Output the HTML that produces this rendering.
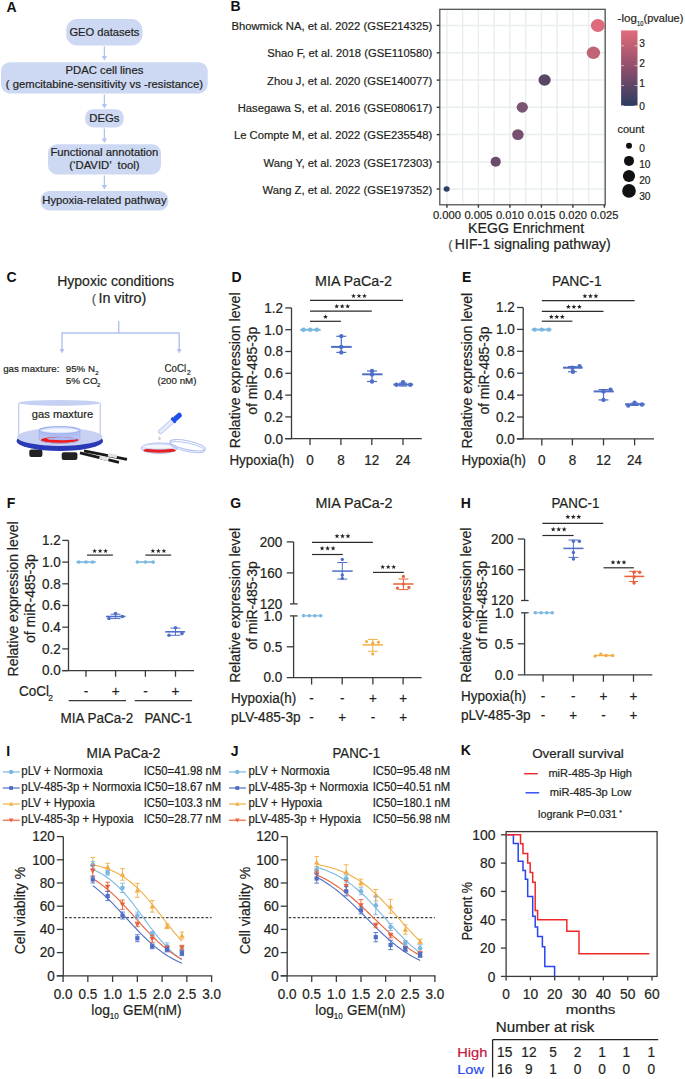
<!DOCTYPE html>
<html><head><meta charset="utf-8"><style>
html,body{margin:0;padding:0;background:#fff;overflow:hidden;}
svg{display:block;}
text{font-family:"Liberation Sans", sans-serif;}
</style></head><body>
<svg width="685" height="1079" viewBox="0 0 685 1079" font-family='"Liberation Sans", sans-serif' fill="#231f20">
<rect width="685" height="1079" fill="#ffffff"/>
<text x="6.50" y="12.00" font-size="14" font-weight="bold" fill="#111" >A</text>
<rect x="66.20" y="19.00" width="76.20" height="26.50" rx="11" fill="#cdd8f3" />
<rect x="1.00" y="62.20" width="206.70" height="31.20" rx="9" fill="#cdd8f3" />
<rect x="85.20" y="109.20" width="38.50" height="18.20" rx="8" fill="#cdd8f3" />
<rect x="48.00" y="144.20" width="113.00" height="30.20" rx="9" fill="#cdd8f3" />
<rect x="40.50" y="190.90" width="127.90" height="19.70" rx="9" fill="#cdd8f3" />
<line x1="104.40" y1="46.40" x2="104.40" y2="57.40" stroke="#b3c2ef" stroke-width="1.3" />
<path d="M101.70,56.00 L104.40,60.40 L107.10,56.00 Z" stroke="none" stroke-width="1" fill="#b3c2ef" />
<line x1="104.40" y1="94.60" x2="104.40" y2="105.50" stroke="#b3c2ef" stroke-width="1.3" />
<path d="M101.70,104.10 L104.40,108.50 L107.10,104.10 Z" stroke="none" stroke-width="1" fill="#b3c2ef" />
<line x1="104.40" y1="128.50" x2="104.40" y2="139.80" stroke="#b3c2ef" stroke-width="1.3" />
<path d="M101.70,138.40 L104.40,142.80 L107.10,138.40 Z" stroke="none" stroke-width="1" fill="#b3c2ef" />
<line x1="104.40" y1="175.50" x2="104.40" y2="186.50" stroke="#b3c2ef" stroke-width="1.3" />
<path d="M101.70,185.10 L104.40,189.50 L107.10,185.10 Z" stroke="none" stroke-width="1" fill="#b3c2ef" />
<text x="104.40" y="35.60" font-size="11.3" text-anchor="middle" stroke="#231f20" stroke-width="0.2" textLength="69.90" lengthAdjust="spacingAndGlyphs" >GEO datasets</text>
<text x="104.40" y="73.90" font-size="11.3" text-anchor="middle" stroke="#231f20" stroke-width="0.2" >PDAC cell lines</text>
<text x="104.40" y="87.60" font-size="11.3" text-anchor="middle" stroke="#231f20" stroke-width="0.2" >( gemcitabine-sensitivity vs -resistance)</text>
<text x="104.40" y="122.30" font-size="11.3" text-anchor="middle" stroke="#231f20" stroke-width="0.2" >DEGs</text>
<text x="104.40" y="155.80" font-size="11.3" text-anchor="middle" stroke="#231f20" stroke-width="0.2" >Functional annotation</text>
<text x="104.40" y="169.00" font-size="11.3" text-anchor="middle" stroke="#231f20" stroke-width="0.2" xml:space="preserve">(‘DAVID’  tool)</text>
<text x="104.40" y="204.00" font-size="11.3" text-anchor="middle" stroke="#231f20" stroke-width="0.2" >Hypoxia-related pathway</text>
<text x="230.50" y="10.70" font-size="14" font-weight="bold" fill="#111" >B</text>
<rect x="440.00" y="9.30" width="165.00" height="195.50" rx="0" fill="#ffffff" />
<line x1="446.90" y1="9.30" x2="446.90" y2="204.80" stroke="#e8eeec" stroke-width="1.4" />
<line x1="462.65" y1="9.30" x2="462.65" y2="204.80" stroke="#e8eeec" stroke-width="1.4" />
<line x1="478.40" y1="9.30" x2="478.40" y2="204.80" stroke="#e8eeec" stroke-width="1.4" />
<line x1="494.15" y1="9.30" x2="494.15" y2="204.80" stroke="#e8eeec" stroke-width="1.4" />
<line x1="509.90" y1="9.30" x2="509.90" y2="204.80" stroke="#e8eeec" stroke-width="1.4" />
<line x1="525.65" y1="9.30" x2="525.65" y2="204.80" stroke="#e8eeec" stroke-width="1.4" />
<line x1="541.40" y1="9.30" x2="541.40" y2="204.80" stroke="#e8eeec" stroke-width="1.4" />
<line x1="557.15" y1="9.30" x2="557.15" y2="204.80" stroke="#e8eeec" stroke-width="1.4" />
<line x1="572.90" y1="9.30" x2="572.90" y2="204.80" stroke="#e8eeec" stroke-width="1.4" />
<line x1="588.65" y1="9.30" x2="588.65" y2="204.80" stroke="#e8eeec" stroke-width="1.4" />
<line x1="604.40" y1="9.30" x2="604.40" y2="204.80" stroke="#e8eeec" stroke-width="1.4" />
<line x1="440.00" y1="25.40" x2="605.00" y2="25.40" stroke="#e8eeec" stroke-width="1.5" />
<line x1="440.00" y1="52.80" x2="605.00" y2="52.80" stroke="#e8eeec" stroke-width="1.5" />
<line x1="440.00" y1="80.10" x2="605.00" y2="80.10" stroke="#e8eeec" stroke-width="1.5" />
<line x1="440.00" y1="107.30" x2="605.00" y2="107.30" stroke="#e8eeec" stroke-width="1.5" />
<line x1="440.00" y1="134.60" x2="605.00" y2="134.60" stroke="#e8eeec" stroke-width="1.5" />
<line x1="440.00" y1="162.00" x2="605.00" y2="162.00" stroke="#e8eeec" stroke-width="1.5" />
<line x1="440.00" y1="189.00" x2="605.00" y2="189.00" stroke="#e8eeec" stroke-width="1.5" />
<rect x="439.8" y="9.3" width="165.4" height="195.5" fill="none" stroke="#4a4f50" stroke-width="1.25"/>
<text x="432.20" y="29.90" font-size="11.25" text-anchor="end" stroke="#231f20" stroke-width="0.2" >Bhowmick NA, et al. 2022 (GSE214325)</text>
<line x1="436.70" y1="25.40" x2="439.60" y2="25.40" stroke="#333" stroke-width="1.4" />
<text x="432.20" y="57.30" font-size="11.25" text-anchor="end" stroke="#231f20" stroke-width="0.2" >Shao F, et al. 2018 (GSE110580)</text>
<line x1="436.70" y1="52.80" x2="439.60" y2="52.80" stroke="#333" stroke-width="1.4" />
<text x="432.20" y="84.60" font-size="11.25" text-anchor="end" stroke="#231f20" stroke-width="0.2" >Zhou J, et al. 2020 (GSE140077)</text>
<line x1="436.70" y1="80.10" x2="439.60" y2="80.10" stroke="#333" stroke-width="1.4" />
<text x="432.20" y="111.80" font-size="11.25" text-anchor="end" stroke="#231f20" stroke-width="0.2" >Hasegawa S, et al. 2016 (GSE080617)</text>
<line x1="436.70" y1="107.30" x2="439.60" y2="107.30" stroke="#333" stroke-width="1.4" />
<text x="432.20" y="139.10" font-size="11.25" text-anchor="end" stroke="#231f20" stroke-width="0.2" >Le Compte M, et al. 2022 (GSE235548)</text>
<line x1="436.70" y1="134.60" x2="439.60" y2="134.60" stroke="#333" stroke-width="1.4" />
<text x="432.20" y="166.50" font-size="11.25" text-anchor="end" stroke="#231f20" stroke-width="0.2" >Wang Y, et al. 2023 (GSE172303)</text>
<line x1="436.70" y1="162.00" x2="439.60" y2="162.00" stroke="#333" stroke-width="1.4" />
<text x="432.20" y="193.50" font-size="11.25" text-anchor="end" stroke="#231f20" stroke-width="0.2" >Wang Z, et al. 2022 (GSE197352)</text>
<line x1="436.70" y1="189.00" x2="439.60" y2="189.00" stroke="#333" stroke-width="1.4" />
<line x1="446.90" y1="204.80" x2="446.90" y2="207.70" stroke="#333" stroke-width="1.4" />
<text x="446.90" y="218.80" font-size="11.2" text-anchor="middle" stroke="#231f20" stroke-width="0.2" >0.000</text>
<line x1="478.40" y1="204.80" x2="478.40" y2="207.70" stroke="#333" stroke-width="1.4" />
<text x="478.40" y="218.80" font-size="11.2" text-anchor="middle" stroke="#231f20" stroke-width="0.2" >0.005</text>
<line x1="509.90" y1="204.80" x2="509.90" y2="207.70" stroke="#333" stroke-width="1.4" />
<text x="509.90" y="218.80" font-size="11.2" text-anchor="middle" stroke="#231f20" stroke-width="0.2" >0.010</text>
<line x1="541.40" y1="204.80" x2="541.40" y2="207.70" stroke="#333" stroke-width="1.4" />
<text x="541.40" y="218.80" font-size="11.2" text-anchor="middle" stroke="#231f20" stroke-width="0.2" >0.015</text>
<line x1="572.90" y1="204.80" x2="572.90" y2="207.70" stroke="#333" stroke-width="1.4" />
<text x="572.90" y="218.80" font-size="11.2" text-anchor="middle" stroke="#231f20" stroke-width="0.2" >0.020</text>
<line x1="604.40" y1="204.80" x2="604.40" y2="207.70" stroke="#333" stroke-width="1.4" />
<text x="604.40" y="218.80" font-size="11.2" text-anchor="middle" stroke="#231f20" stroke-width="0.2" >0.025</text>
<text x="468.10" y="232.80" font-size="14" stroke="#231f20" stroke-width="0.2" textLength="116.00" lengthAdjust="spacingAndGlyphs" >KEGG Enrichment</text>
<text x="448.20" y="249.40" font-size="13" fill="#555" stroke="#555" stroke-width="0.2" >(</text>
<text x="454.80" y="249.40" font-size="14" stroke="#231f20" stroke-width="0.2" textLength="156.00" lengthAdjust="spacingAndGlyphs" >HIF-1 signaling pathway)</text>
<ellipse cx="597.85" cy="25.5" rx="7.0" ry="6.4" fill="#de6b7b"/>
<ellipse cx="593.4" cy="52.8" rx="6.7" ry="6.25" fill="#bf6474"/>
<ellipse cx="544.6" cy="80.0" rx="6.1" ry="5.75" fill="#574666"/>
<ellipse cx="522.3" cy="107.3" rx="5.6" ry="5.35" fill="#7b5373"/>
<ellipse cx="517.9" cy="134.6" rx="5.75" ry="5.45" fill="#775070"/>
<ellipse cx="495.7" cy="161.8" rx="5.1" ry="4.95" fill="#6b4d6b"/>
<ellipse cx="446.6" cy="189.0" rx="3.0" ry="2.8" fill="#2e3f63"/>
<defs><linearGradient id="cb" x1="0" y1="0" x2="0" y2="1"><stop offset="0" stop-color="#e16c7a"/><stop offset="0.5" stop-color="#8e4d6c"/><stop offset="1" stop-color="#2a3d62"/></linearGradient></defs>
<rect x="621.10" y="30.40" width="16.40" height="75.50" rx="0" fill="url(#cb)" />
<line x1="621.10" y1="45.80" x2="624.20" y2="45.80" stroke="#ffffff" stroke-width="0.8" opacity="0.7"/>
<line x1="634.40" y1="45.80" x2="637.50" y2="45.80" stroke="#ffffff" stroke-width="0.8" opacity="0.7"/>
<line x1="621.10" y1="65.70" x2="624.20" y2="65.70" stroke="#ffffff" stroke-width="0.8" opacity="0.7"/>
<line x1="634.40" y1="65.70" x2="637.50" y2="65.70" stroke="#ffffff" stroke-width="0.8" opacity="0.7"/>
<line x1="621.10" y1="85.60" x2="624.20" y2="85.60" stroke="#ffffff" stroke-width="0.8" opacity="0.7"/>
<line x1="634.40" y1="85.60" x2="637.50" y2="85.60" stroke="#ffffff" stroke-width="0.8" opacity="0.7"/>
<line x1="621.10" y1="105.60" x2="624.20" y2="105.60" stroke="#ffffff" stroke-width="0.8" opacity="0.7"/>
<line x1="634.40" y1="105.60" x2="637.50" y2="105.60" stroke="#ffffff" stroke-width="0.8" opacity="0.7"/>
<text x="639.20" y="47.00" font-size="10.2" stroke="#231f20" stroke-width="0.2" >3</text>
<text x="639.20" y="66.90" font-size="10.2" stroke="#231f20" stroke-width="0.2" >2</text>
<text x="639.20" y="86.80" font-size="10.2" stroke="#231f20" stroke-width="0.2" >1</text>
<text x="639.20" y="109.60" font-size="10.2" stroke="#231f20" stroke-width="0.2" >0</text>
<text x="617.60" y="22.00" font-size="11.2" stroke="#231f20" stroke-width="0.2" textLength="19.30" lengthAdjust="spacingAndGlyphs" >-log</text>
<text x="637.10" y="25.60" font-size="6.4" stroke="#231f20" stroke-width="0.2" textLength="6.30" lengthAdjust="spacingAndGlyphs" >10</text>
<text x="643.60" y="22.00" font-size="11.2" stroke="#231f20" stroke-width="0.2" textLength="39.70" lengthAdjust="spacingAndGlyphs" >(pvalue)</text>
<text x="617.50" y="132.50" font-size="11" stroke="#231f20" stroke-width="0.2" >count</text>
<circle cx="629.00" cy="145.80" r="3.00" fill="#111" />
<text x="639.20" y="151.50" font-size="10.2" stroke="#231f20" stroke-width="0.2" >0</text>
<circle cx="629.00" cy="160.90" r="5.00" fill="#111" />
<text x="639.20" y="167.50" font-size="10.2" stroke="#231f20" stroke-width="0.2" >10</text>
<circle cx="629.00" cy="176.00" r="6.10" fill="#111" />
<text x="639.20" y="184.00" font-size="10.2" stroke="#231f20" stroke-width="0.2" >20</text>
<circle cx="629.00" cy="190.90" r="6.80" fill="#111" />
<text x="639.20" y="199.50" font-size="10.2" stroke="#231f20" stroke-width="0.2" >30</text>
<text x="6.50" y="282.30" font-size="14" font-weight="bold" fill="#111" >C</text>
<text x="115.60" y="285.50" font-size="14" text-anchor="middle" stroke="#231f20" stroke-width="0.2" textLength="116.80" lengthAdjust="spacingAndGlyphs" >Hypoxic conditions</text>
<text x="91.80" y="302.80" font-size="13" fill="#555" stroke="#555" stroke-width="0.2" >(</text>
<text x="98.40" y="302.80" font-size="14" stroke="#231f20" stroke-width="0.2" textLength="47.90" lengthAdjust="spacingAndGlyphs" >In vitro)</text>
<line x1="118.70" y1="321.10" x2="118.70" y2="333.00" stroke="#b0c0f0" stroke-width="1.4" />
<line x1="61.30" y1="333.00" x2="179.60" y2="333.00" stroke="#b0c0f0" stroke-width="1.4" />
<line x1="62.00" y1="333.00" x2="62.00" y2="350.00" stroke="#b0c0f0" stroke-width="1.4" />
<path d="M59.60,349.00 L62.00,353.50 L64.40,349.00 Z" stroke="none" stroke-width="1" fill="#b0c0f0" />
<line x1="179.20" y1="333.00" x2="179.20" y2="350.00" stroke="#b0c0f0" stroke-width="1.4" />
<path d="M176.80,349.00 L179.20,353.50 L181.60,349.00 Z" stroke="none" stroke-width="1" fill="#b0c0f0" />
<text x="3.20" y="372.20" font-size="9.7" stroke="#231f20" stroke-width="0.2" textLength="56.20" lengthAdjust="spacingAndGlyphs" >gas maxture:</text>
<text x="65.80" y="372.20" font-size="9.7" stroke="#231f20" stroke-width="0.2" >95% N</text>
<text x="95.20" y="375.00" font-size="6" stroke="#231f20" stroke-width="0.2" >2</text>
<text x="65.80" y="383.90" font-size="9.9" stroke="#231f20" stroke-width="0.2" >5% CO</text>
<text x="97.00" y="386.80" font-size="6" stroke="#231f20" stroke-width="0.2" >2</text>
<text x="164.60" y="372.20" font-size="10.0" stroke="#231f20" stroke-width="0.2" textLength="21.60" lengthAdjust="spacingAndGlyphs" >CoCl</text>
<text x="186.90" y="375.20" font-size="6.6" stroke="#231f20" stroke-width="0.2" >2</text>
<text x="157.40" y="383.90" font-size="9.9" stroke="#231f20" stroke-width="0.2" textLength="39.10" lengthAdjust="spacingAndGlyphs" >(200 nM)</text>
<g>
<line x1="18.80" y1="403.00" x2="18.80" y2="437.00" stroke="#a9b7ec" stroke-width="0.9" />
<line x1="100.20" y1="403.00" x2="100.20" y2="437.00" stroke="#a9b7ec" stroke-width="0.9" />
<ellipse cx="59.5" cy="402.9" rx="40.7" ry="2.9" fill="#c6d0f2"/>
<text x="62.50" y="417.80" font-size="11" text-anchor="middle" stroke="#231f20" stroke-width="0.2" textLength="61.30" lengthAdjust="spacingAndGlyphs" >gas maxture</text>
<rect x="29.30" y="449.50" width="13.10" height="7.60" rx="2" fill="#222" />
<rect x="61.70" y="452.20" width="15.70" height="7.80" rx="2" fill="#222" />
<path d="M80,452.8 L119,462.3" stroke="#1a1a1a" stroke-width="2.9" fill="none" />
<path d="M84,450.8 L127,459.3" stroke="#1a1a1a" stroke-width="2.9" fill="none" />
<path d="M99.5,457.2 L108.5,459.4" stroke="#e2e2e2" stroke-width="3.6" fill="none" />
<path d="M108,454.8 L117,456.6" stroke="#e2e2e2" stroke-width="3.6" fill="none" />
<ellipse cx="59.8" cy="440.9" rx="43.3" ry="10.0" fill="#2a3ab6"/>
<ellipse cx="59.8" cy="437.0" rx="42.8" ry="8.9" fill="#c8d1f1"/>
<path d="M39.3,430.4 L39.3,439.6 A20.3,3.7 0 0 0 79.9,439.6 L79.9,430.4 Z" fill="#b8c6f3"/>
<ellipse cx="59.6" cy="440.1" rx="18.8" ry="3.4" fill="#ef1b1f"/>
<ellipse cx="62.2" cy="438.7" rx="15.2" ry="1.6" fill="#a9baf2"/>
<path d="M39.3,430.4 L39.3,439.6 A20.3,3.7 0 0 0 79.9,439.6 L79.9,430.4" fill="none" stroke="#9fb2ef" stroke-width="0.9"/>
<ellipse cx="59.6" cy="432.6" rx="20.0" ry="3.3" fill="none" stroke="#a9baf1" stroke-width="1.2"/>
<ellipse cx="59.6" cy="430.3" rx="20.3" ry="3.6" fill="#dfe6fb" stroke="#9fb2ef" stroke-width="1.3"/>
<ellipse cx="59.6" cy="430.6" rx="16.5" ry="1.5" fill="#f5f7fe"/>
</g>
<ellipse cx="159.2" cy="448.2" rx="18.1" ry="5.3" fill="#dde3f8" stroke="#b4c1f0" stroke-width="1"/>
<ellipse cx="159.6" cy="450.4" rx="16.2" ry="2.4" fill="#e81f22"/>
<ellipse cx="159.2" cy="446.6" rx="16.8" ry="2.6" fill="#f4f6fd" stroke="#c2cdf4" stroke-width="0.8"/>
<g transform="rotate(12 187.6 445.3)"><ellipse cx="187.6" cy="445.3" rx="18.2" ry="4.4" fill="none" stroke="#b3c0f0" stroke-width="1.1"/><ellipse cx="187.6" cy="447.2" rx="18.2" ry="4.2" fill="none" stroke="#b3c0f0" stroke-width="0.9"/></g>
<g transform="translate(158.9,433) rotate(-41)"><rect x="0" y="-2.1" width="19" height="4.2" rx="2" fill="#e6ebf9" stroke="#aebcec" stroke-width="0.8"/><rect x="18" y="-3.3" width="3" height="6.6" rx="1" fill="#1f4fe6"/><rect x="20" y="-2.6" width="9.5" height="5.2" rx="2.6" fill="#1f4fe6"/></g>
<path d="M159.5,435.6 C159.2,437 157.9,438.2 158.2,439.3 C158.5,440.4 160.5,440.4 160.8,439.3 C161.1,438.2 159.8,437 159.5,435.6Z" fill="#c9d4d0"/>
<text transform="translate(231.50,282.00) scale(1,1.07)" x="0" y="0" font-size="14" font-weight="bold" fill="#111" >D</text>
<text transform="translate(353.50,285.90) scale(1,1.07)" x="0" y="0" font-size="14" text-anchor="middle" stroke="#231f20" stroke-width="0.2" textLength="77.00" lengthAdjust="spacingAndGlyphs" >MIA PaCa-2</text>
<line x1="291.50" y1="307.90" x2="291.50" y2="438.70" stroke="#3a3a3a" stroke-width="1.3" />
<line x1="285.10" y1="438.70" x2="421.80" y2="438.70" stroke="#3a3a3a" stroke-width="1.3" />
<line x1="285.30" y1="307.90" x2="291.50" y2="307.90" stroke="#3a3a3a" stroke-width="1.3" />
<text transform="translate(283.00,312.70) scale(1,1.07)" x="0" y="0" font-size="13.5" text-anchor="end" stroke="#231f20" stroke-width="0.2" >1.2</text>
<line x1="285.30" y1="329.70" x2="291.50" y2="329.70" stroke="#3a3a3a" stroke-width="1.3" />
<text transform="translate(283.00,334.50) scale(1,1.07)" x="0" y="0" font-size="13.5" text-anchor="end" stroke="#231f20" stroke-width="0.2" >1.0</text>
<line x1="285.30" y1="351.50" x2="291.50" y2="351.50" stroke="#3a3a3a" stroke-width="1.3" />
<text transform="translate(283.00,356.30) scale(1,1.07)" x="0" y="0" font-size="13.5" text-anchor="end" stroke="#231f20" stroke-width="0.2" >0.8</text>
<line x1="285.30" y1="373.30" x2="291.50" y2="373.30" stroke="#3a3a3a" stroke-width="1.3" />
<text transform="translate(283.00,378.10) scale(1,1.07)" x="0" y="0" font-size="13.5" text-anchor="end" stroke="#231f20" stroke-width="0.2" >0.6</text>
<line x1="285.30" y1="395.10" x2="291.50" y2="395.10" stroke="#3a3a3a" stroke-width="1.3" />
<text transform="translate(283.00,399.90) scale(1,1.07)" x="0" y="0" font-size="13.5" text-anchor="end" stroke="#231f20" stroke-width="0.2" >0.4</text>
<line x1="285.30" y1="416.90" x2="291.50" y2="416.90" stroke="#3a3a3a" stroke-width="1.3" />
<text transform="translate(283.00,421.70) scale(1,1.07)" x="0" y="0" font-size="13.5" text-anchor="end" stroke="#231f20" stroke-width="0.2" >0.2</text>
<line x1="285.30" y1="438.70" x2="291.50" y2="438.70" stroke="#3a3a3a" stroke-width="1.3" />
<text transform="translate(283.00,443.50) scale(1,1.07)" x="0" y="0" font-size="13.5" text-anchor="end" stroke="#231f20" stroke-width="0.2" >0.0</text>
<line x1="310.00" y1="438.70" x2="310.00" y2="444.90" stroke="#3a3a3a" stroke-width="1.3" />
<text transform="translate(310.00,465.20) scale(1,1.07)" x="0" y="0" font-size="13.5" text-anchor="middle" stroke="#231f20" stroke-width="0.2" >0</text>
<line x1="340.90" y1="438.70" x2="340.90" y2="444.90" stroke="#3a3a3a" stroke-width="1.3" />
<text transform="translate(340.90,465.20) scale(1,1.07)" x="0" y="0" font-size="13.5" text-anchor="middle" stroke="#231f20" stroke-width="0.2" >8</text>
<line x1="371.80" y1="438.70" x2="371.80" y2="444.90" stroke="#3a3a3a" stroke-width="1.3" />
<text transform="translate(371.80,465.20) scale(1,1.07)" x="0" y="0" font-size="13.5" text-anchor="middle" stroke="#231f20" stroke-width="0.2" >12</text>
<line x1="403.00" y1="438.70" x2="403.00" y2="444.90" stroke="#3a3a3a" stroke-width="1.3" />
<text transform="translate(403.00,465.20) scale(1,1.07)" x="0" y="0" font-size="13.5" text-anchor="middle" stroke="#231f20" stroke-width="0.2" >24</text>
<text transform="translate(229.40,465.20) scale(1,1.07)" x="0" y="0" font-size="13.5" stroke="#231f20" stroke-width="0.2" textLength="64.80" lengthAdjust="spacingAndGlyphs" >Hypoxia(h)</text>
<text transform="translate(239.80,370.40) rotate(-90)" x="0" y="0" font-size="14" text-anchor="middle" stroke="#231f20" stroke-width="0.2" textLength="155.80" lengthAdjust="spacingAndGlyphs">Relative expression level</text>
<text transform="translate(256.90,370.80) rotate(-90)" x="0" y="0" font-size="14" text-anchor="middle" stroke="#231f20" stroke-width="0.2" textLength="88.00" lengthAdjust="spacingAndGlyphs">of miR-485-3p</text>
<line x1="310.00" y1="321.30" x2="340.90" y2="321.30" stroke="#2b2b2b" stroke-width="1.2" />
<polygon points="325.50,314.25 326.13,315.93 327.93,316.01 326.53,317.13 327.00,318.86 325.50,317.88 324.00,318.86 324.47,317.13 323.07,316.01 324.87,315.93" fill="#222"/>
<line x1="310.00" y1="311.20" x2="371.80" y2="311.20" stroke="#2b2b2b" stroke-width="1.2" />
<polygon points="336.70,303.75 337.33,305.43 339.13,305.51 337.73,306.63 338.20,308.36 336.70,307.38 335.20,308.36 335.67,306.63 334.27,305.51 336.07,305.43" fill="#222"/>
<polygon points="342.20,303.75 342.83,305.43 344.63,305.51 343.23,306.63 343.70,308.36 342.20,307.38 340.70,308.36 341.17,306.63 339.77,305.51 341.57,305.43" fill="#222"/>
<polygon points="347.70,303.75 348.33,305.43 350.13,305.51 348.73,306.63 349.20,308.36 347.70,307.38 346.20,308.36 346.67,306.63 345.27,305.51 347.07,305.43" fill="#222"/>
<line x1="310.00" y1="300.30" x2="403.00" y2="300.30" stroke="#2b2b2b" stroke-width="1.2" />
<polygon points="353.50,293.45 354.13,295.13 355.93,295.21 354.53,296.33 355.00,298.06 353.50,297.08 352.00,298.06 352.47,296.33 351.07,295.21 352.87,295.13" fill="#222"/>
<polygon points="359.00,293.45 359.63,295.13 361.43,295.21 360.03,296.33 360.50,298.06 359.00,297.08 357.50,298.06 357.97,296.33 356.57,295.21 358.37,295.13" fill="#222"/>
<polygon points="364.50,293.45 365.13,295.13 366.93,295.21 365.53,296.33 366.00,298.06 364.50,297.08 363.00,298.06 363.47,296.33 362.07,295.21 363.87,295.13" fill="#222"/>
<line x1="300.20" y1="329.80" x2="320.60" y2="329.80" stroke="#7ab8e2" stroke-width="2.0" />
<circle cx="303.50" cy="329.80" r="2.20" fill="#7ab8e2" />
<circle cx="310.20" cy="329.80" r="2.20" fill="#7ab8e2" />
<circle cx="316.80" cy="329.80" r="2.20" fill="#7ab8e2" />
<line x1="341.30" y1="336.30" x2="341.30" y2="352.40" stroke="#4f6fc6" stroke-width="1.2" />
<line x1="336.30" y1="336.30" x2="346.30" y2="336.30" stroke="#4f6fc6" stroke-width="1.2" />
<line x1="336.30" y1="352.40" x2="346.30" y2="352.40" stroke="#4f6fc6" stroke-width="1.2" />
<line x1="331.10" y1="346.90" x2="351.70" y2="346.90" stroke="#4f6fc6" stroke-width="2.0" />
<circle cx="341.30" cy="336.10" r="2.20" fill="#4f6fc6" />
<circle cx="341.30" cy="346.90" r="2.20" fill="#4f6fc6" />
<circle cx="341.30" cy="352.40" r="2.20" fill="#4f6fc6" />
<line x1="372.00" y1="371.00" x2="372.00" y2="381.50" stroke="#4f6fc6" stroke-width="1.2" />
<line x1="367.00" y1="371.00" x2="377.00" y2="371.00" stroke="#4f6fc6" stroke-width="1.2" />
<line x1="367.00" y1="381.50" x2="377.00" y2="381.50" stroke="#4f6fc6" stroke-width="1.2" />
<line x1="362.10" y1="374.30" x2="382.50" y2="374.30" stroke="#4f6fc6" stroke-width="2.0" />
<circle cx="372.00" cy="371.00" r="2.20" fill="#4f6fc6" />
<circle cx="372.00" cy="374.50" r="2.20" fill="#4f6fc6" />
<circle cx="372.00" cy="381.50" r="2.20" fill="#4f6fc6" />
<line x1="403.00" y1="383.20" x2="403.00" y2="386.00" stroke="#4f6fc6" stroke-width="1.2" />
<line x1="399.00" y1="383.20" x2="407.00" y2="383.20" stroke="#4f6fc6" stroke-width="1.2" />
<line x1="399.00" y1="386.00" x2="407.00" y2="386.00" stroke="#4f6fc6" stroke-width="1.2" />
<line x1="393.40" y1="384.60" x2="413.10" y2="384.60" stroke="#4f6fc6" stroke-width="2.0" />
<circle cx="396.50" cy="384.80" r="2.20" fill="#4f6fc6" />
<circle cx="403.00" cy="382.20" r="2.20" fill="#4f6fc6" />
<circle cx="410.30" cy="384.80" r="2.20" fill="#4f6fc6" />
<text transform="translate(462.00,282.00) scale(1,1.07)" x="0" y="0" font-size="14" font-weight="bold" fill="#111" >E</text>
<text transform="translate(576.80,285.90) scale(1,1.07)" x="0" y="0" font-size="14" text-anchor="middle" stroke="#231f20" stroke-width="0.2" textLength="49.70" lengthAdjust="spacingAndGlyphs" >PANC-1</text>
<line x1="523.20" y1="307.50" x2="523.20" y2="438.90" stroke="#3a3a3a" stroke-width="1.3" />
<line x1="516.80" y1="438.90" x2="654.00" y2="438.90" stroke="#3a3a3a" stroke-width="1.3" />
<line x1="517.00" y1="307.50" x2="523.20" y2="307.50" stroke="#3a3a3a" stroke-width="1.3" />
<text transform="translate(514.70,312.30) scale(1,1.07)" x="0" y="0" font-size="13.5" text-anchor="end" stroke="#231f20" stroke-width="0.2" >1.2</text>
<line x1="517.00" y1="329.40" x2="523.20" y2="329.40" stroke="#3a3a3a" stroke-width="1.3" />
<text transform="translate(514.70,334.20) scale(1,1.07)" x="0" y="0" font-size="13.5" text-anchor="end" stroke="#231f20" stroke-width="0.2" >1.0</text>
<line x1="517.00" y1="351.30" x2="523.20" y2="351.30" stroke="#3a3a3a" stroke-width="1.3" />
<text transform="translate(514.70,356.10) scale(1,1.07)" x="0" y="0" font-size="13.5" text-anchor="end" stroke="#231f20" stroke-width="0.2" >0.8</text>
<line x1="517.00" y1="373.20" x2="523.20" y2="373.20" stroke="#3a3a3a" stroke-width="1.3" />
<text transform="translate(514.70,378.00) scale(1,1.07)" x="0" y="0" font-size="13.5" text-anchor="end" stroke="#231f20" stroke-width="0.2" >0.6</text>
<line x1="517.00" y1="395.10" x2="523.20" y2="395.10" stroke="#3a3a3a" stroke-width="1.3" />
<text transform="translate(514.70,399.90) scale(1,1.07)" x="0" y="0" font-size="13.5" text-anchor="end" stroke="#231f20" stroke-width="0.2" >0.4</text>
<line x1="517.00" y1="417.00" x2="523.20" y2="417.00" stroke="#3a3a3a" stroke-width="1.3" />
<text transform="translate(514.70,421.80) scale(1,1.07)" x="0" y="0" font-size="13.5" text-anchor="end" stroke="#231f20" stroke-width="0.2" >0.2</text>
<line x1="517.00" y1="438.90" x2="523.20" y2="438.90" stroke="#3a3a3a" stroke-width="1.3" />
<text transform="translate(514.70,443.70) scale(1,1.07)" x="0" y="0" font-size="13.5" text-anchor="end" stroke="#231f20" stroke-width="0.2" >0.0</text>
<line x1="541.80" y1="438.90" x2="541.80" y2="445.40" stroke="#3a3a3a" stroke-width="1.3" />
<text transform="translate(541.80,465.20) scale(1,1.07)" x="0" y="0" font-size="13.5" text-anchor="middle" stroke="#231f20" stroke-width="0.2" >0</text>
<line x1="572.40" y1="438.90" x2="572.40" y2="445.40" stroke="#3a3a3a" stroke-width="1.3" />
<text transform="translate(572.40,465.20) scale(1,1.07)" x="0" y="0" font-size="13.5" text-anchor="middle" stroke="#231f20" stroke-width="0.2" >8</text>
<line x1="603.50" y1="438.90" x2="603.50" y2="445.40" stroke="#3a3a3a" stroke-width="1.3" />
<text transform="translate(603.50,465.20) scale(1,1.07)" x="0" y="0" font-size="13.5" text-anchor="middle" stroke="#231f20" stroke-width="0.2" >12</text>
<line x1="634.60" y1="438.90" x2="634.60" y2="445.40" stroke="#3a3a3a" stroke-width="1.3" />
<text transform="translate(634.60,465.20) scale(1,1.07)" x="0" y="0" font-size="13.5" text-anchor="middle" stroke="#231f20" stroke-width="0.2" >24</text>
<text transform="translate(461.60,465.20) scale(1,1.07)" x="0" y="0" font-size="13.5" stroke="#231f20" stroke-width="0.2" textLength="64.40" lengthAdjust="spacingAndGlyphs" >Hypoxia(h)</text>
<text transform="translate(472.20,370.60) rotate(-90)" x="0" y="0" font-size="14" text-anchor="middle" stroke="#231f20" stroke-width="0.2" textLength="155.60" lengthAdjust="spacingAndGlyphs">Relative expression level</text>
<text transform="translate(488.50,370.60) rotate(-90)" x="0" y="0" font-size="14" text-anchor="middle" stroke="#231f20" stroke-width="0.2" textLength="88.00" lengthAdjust="spacingAndGlyphs">of miR-485-3p</text>
<line x1="541.80" y1="321.20" x2="572.40" y2="321.20" stroke="#2b2b2b" stroke-width="1.2" />
<polygon points="551.30,314.35 551.93,316.03 553.73,316.11 552.33,317.23 552.80,318.96 551.30,317.98 549.80,318.96 550.27,317.23 548.87,316.11 550.67,316.03" fill="#222"/>
<polygon points="556.80,314.35 557.43,316.03 559.23,316.11 557.83,317.23 558.30,318.96 556.80,317.98 555.30,318.96 555.77,317.23 554.37,316.11 556.17,316.03" fill="#222"/>
<polygon points="562.30,314.35 562.93,316.03 564.73,316.11 563.33,317.23 563.80,318.96 562.30,317.98 560.80,318.96 561.27,317.23 559.87,316.11 561.67,316.03" fill="#222"/>
<line x1="541.80" y1="311.40" x2="603.50" y2="311.40" stroke="#2b2b2b" stroke-width="1.2" />
<polygon points="568.40,304.25 569.03,305.93 570.83,306.01 569.43,307.13 569.90,308.86 568.40,307.88 566.90,308.86 567.37,307.13 565.97,306.01 567.77,305.93" fill="#222"/>
<polygon points="573.90,304.25 574.53,305.93 576.33,306.01 574.93,307.13 575.40,308.86 573.90,307.88 572.40,308.86 572.87,307.13 571.47,306.01 573.27,305.93" fill="#222"/>
<polygon points="579.40,304.25 580.03,305.93 581.83,306.01 580.43,307.13 580.90,308.86 579.40,307.88 577.90,308.86 578.37,307.13 576.97,306.01 578.77,305.93" fill="#222"/>
<line x1="541.80" y1="300.60" x2="634.60" y2="300.60" stroke="#2b2b2b" stroke-width="1.2" />
<polygon points="584.90,293.55 585.53,295.23 587.33,295.31 585.93,296.43 586.40,298.16 584.90,297.18 583.40,298.16 583.87,296.43 582.47,295.31 584.27,295.23" fill="#222"/>
<polygon points="590.40,293.55 591.03,295.23 592.83,295.31 591.43,296.43 591.90,298.16 590.40,297.18 588.90,298.16 589.37,296.43 587.97,295.31 589.77,295.23" fill="#222"/>
<polygon points="595.90,293.55 596.53,295.23 598.33,295.31 596.93,296.43 597.40,298.16 595.90,297.18 594.40,298.16 594.87,296.43 593.47,295.31 595.27,295.23" fill="#222"/>
<line x1="531.70" y1="329.60" x2="551.40" y2="329.60" stroke="#7ab8e2" stroke-width="2.0" />
<circle cx="534.60" cy="329.60" r="2.20" fill="#7ab8e2" />
<circle cx="541.80" cy="329.60" r="2.20" fill="#7ab8e2" />
<circle cx="548.80" cy="329.60" r="2.20" fill="#7ab8e2" />
<line x1="572.40" y1="366.60" x2="572.40" y2="371.70" stroke="#4f6fc6" stroke-width="1.2" />
<line x1="568.00" y1="366.60" x2="576.80" y2="366.60" stroke="#4f6fc6" stroke-width="1.2" />
<line x1="568.00" y1="371.70" x2="576.80" y2="371.70" stroke="#4f6fc6" stroke-width="1.2" />
<line x1="563.00" y1="367.70" x2="582.70" y2="367.70" stroke="#4f6fc6" stroke-width="2.0" />
<circle cx="579.60" cy="366.20" r="2.20" fill="#4f6fc6" />
<circle cx="572.40" cy="367.70" r="2.20" fill="#4f6fc6" />
<circle cx="572.90" cy="371.70" r="2.20" fill="#4f6fc6" />
<line x1="603.50" y1="389.60" x2="603.50" y2="399.90" stroke="#4f6fc6" stroke-width="1.2" />
<line x1="598.60" y1="389.60" x2="608.40" y2="389.60" stroke="#4f6fc6" stroke-width="1.2" />
<line x1="598.60" y1="399.90" x2="608.40" y2="399.90" stroke="#4f6fc6" stroke-width="1.2" />
<line x1="593.70" y1="391.40" x2="613.80" y2="391.40" stroke="#4f6fc6" stroke-width="2.0" />
<circle cx="610.50" cy="389.60" r="2.20" fill="#4f6fc6" />
<circle cx="603.50" cy="391.40" r="2.20" fill="#4f6fc6" />
<circle cx="603.50" cy="399.90" r="2.20" fill="#4f6fc6" />
<line x1="634.60" y1="403.20" x2="634.60" y2="405.40" stroke="#4f6fc6" stroke-width="1.2" />
<line x1="630.60" y1="403.20" x2="638.60" y2="403.20" stroke="#4f6fc6" stroke-width="1.2" />
<line x1="630.60" y1="405.40" x2="638.60" y2="405.40" stroke="#4f6fc6" stroke-width="1.2" />
<line x1="625.00" y1="404.30" x2="644.70" y2="404.30" stroke="#4f6fc6" stroke-width="2.0" />
<circle cx="628.30" cy="405.60" r="2.20" fill="#4f6fc6" />
<circle cx="634.60" cy="402.80" r="2.20" fill="#4f6fc6" />
<circle cx="641.90" cy="404.50" r="2.20" fill="#4f6fc6" />
<text transform="translate(6.80,508.00) scale(1,1.07)" x="0" y="0" font-size="14" font-weight="bold" fill="#111" >F</text>
<line x1="68.50" y1="540.40" x2="68.50" y2="670.60" stroke="#3a3a3a" stroke-width="1.3" />
<line x1="62.30" y1="670.60" x2="194.00" y2="670.60" stroke="#3a3a3a" stroke-width="1.3" />
<line x1="62.30" y1="540.40" x2="68.50" y2="540.40" stroke="#3a3a3a" stroke-width="1.3" />
<text transform="translate(60.80,545.20) scale(1,1.07)" x="0" y="0" font-size="13.5" text-anchor="end" stroke="#231f20" stroke-width="0.2" >1.2</text>
<line x1="62.30" y1="562.10" x2="68.50" y2="562.10" stroke="#3a3a3a" stroke-width="1.3" />
<text transform="translate(60.80,566.90) scale(1,1.07)" x="0" y="0" font-size="13.5" text-anchor="end" stroke="#231f20" stroke-width="0.2" >1.0</text>
<line x1="62.30" y1="583.80" x2="68.50" y2="583.80" stroke="#3a3a3a" stroke-width="1.3" />
<text transform="translate(60.80,588.60) scale(1,1.07)" x="0" y="0" font-size="13.5" text-anchor="end" stroke="#231f20" stroke-width="0.2" >0.8</text>
<line x1="62.30" y1="605.50" x2="68.50" y2="605.50" stroke="#3a3a3a" stroke-width="1.3" />
<text transform="translate(60.80,610.30) scale(1,1.07)" x="0" y="0" font-size="13.5" text-anchor="end" stroke="#231f20" stroke-width="0.2" >0.6</text>
<line x1="62.30" y1="627.20" x2="68.50" y2="627.20" stroke="#3a3a3a" stroke-width="1.3" />
<text transform="translate(60.80,632.00) scale(1,1.07)" x="0" y="0" font-size="13.5" text-anchor="end" stroke="#231f20" stroke-width="0.2" >0.4</text>
<line x1="62.30" y1="648.90" x2="68.50" y2="648.90" stroke="#3a3a3a" stroke-width="1.3" />
<text transform="translate(60.80,653.70) scale(1,1.07)" x="0" y="0" font-size="13.5" text-anchor="end" stroke="#231f20" stroke-width="0.2" >0.2</text>
<line x1="62.30" y1="670.60" x2="68.50" y2="670.60" stroke="#3a3a3a" stroke-width="1.3" />
<text transform="translate(60.80,675.40) scale(1,1.07)" x="0" y="0" font-size="13.5" text-anchor="end" stroke="#231f20" stroke-width="0.2" >0.0</text>
<line x1="86.00" y1="670.60" x2="86.00" y2="676.80" stroke="#3a3a3a" stroke-width="1.3" />
<text transform="translate(86.00,695.60) scale(1,1.07)" x="0" y="0" font-size="13.5" text-anchor="middle" stroke="#231f20" stroke-width="0.2" >-</text>
<line x1="115.60" y1="670.60" x2="115.60" y2="676.80" stroke="#3a3a3a" stroke-width="1.3" />
<text transform="translate(115.60,695.60) scale(1,1.07)" x="0" y="0" font-size="13.5" text-anchor="middle" stroke="#231f20" stroke-width="0.2" >+</text>
<line x1="145.40" y1="670.60" x2="145.40" y2="676.80" stroke="#3a3a3a" stroke-width="1.3" />
<text transform="translate(145.40,695.60) scale(1,1.07)" x="0" y="0" font-size="13.5" text-anchor="middle" stroke="#231f20" stroke-width="0.2" >-</text>
<line x1="175.50" y1="670.60" x2="175.50" y2="676.80" stroke="#3a3a3a" stroke-width="1.3" />
<text transform="translate(175.50,695.60) scale(1,1.07)" x="0" y="0" font-size="13.5" text-anchor="middle" stroke="#231f20" stroke-width="0.2" >+</text>
<text transform="translate(19.00,695.60) scale(1,1.07)" x="0" y="0" font-size="13.5" stroke="#231f20" stroke-width="0.2" >CoCl</text>
<text transform="translate(48.20,700.90) scale(1,1.07)" x="0" y="0" font-size="8.5" stroke="#231f20" stroke-width="0.2" >2</text>
<line x1="68.70" y1="700.60" x2="126.00" y2="700.60" stroke="#3a3a3a" stroke-width="1.3" />
<line x1="134.70" y1="700.60" x2="192.10" y2="700.60" stroke="#3a3a3a" stroke-width="1.3" />
<text transform="translate(96.85,723.00) scale(1,1.07)" x="0" y="0" font-size="13.5" text-anchor="middle" stroke="#231f20" stroke-width="0.2" textLength="72.90" lengthAdjust="spacingAndGlyphs" >MIA PaCa-2</text>
<text transform="translate(168.20,723.00) scale(1,1.07)" x="0" y="0" font-size="13.5" text-anchor="middle" stroke="#231f20" stroke-width="0.2" textLength="47.60" lengthAdjust="spacingAndGlyphs" >PANC-1</text>
<text transform="translate(17.50,598.90) rotate(-90)" x="0" y="0" font-size="14" text-anchor="middle" stroke="#231f20" stroke-width="0.2" textLength="155.20" lengthAdjust="spacingAndGlyphs">Relative expression level</text>
<text transform="translate(34.80,598.60) rotate(-90)" x="0" y="0" font-size="14" text-anchor="middle" stroke="#231f20" stroke-width="0.2" textLength="89.00" lengthAdjust="spacingAndGlyphs">of miR-485-3p</text>
<line x1="87.00" y1="555.10" x2="112.90" y2="555.10" stroke="#2b2b2b" stroke-width="1.2" />
<polygon points="94.60,548.45 95.23,550.13 97.03,550.21 95.63,551.33 96.10,553.06 94.60,552.08 93.10,553.06 93.57,551.33 92.17,550.21 93.97,550.13" fill="#222"/>
<polygon points="100.10,548.45 100.73,550.13 102.53,550.21 101.13,551.33 101.60,553.06 100.10,552.08 98.60,553.06 99.07,551.33 97.67,550.21 99.47,550.13" fill="#222"/>
<polygon points="105.60,548.45 106.23,550.13 108.03,550.21 106.63,551.33 107.10,553.06 105.60,552.08 104.10,553.06 104.57,551.33 103.17,550.21 104.97,550.13" fill="#222"/>
<line x1="145.30" y1="555.10" x2="171.20" y2="555.10" stroke="#2b2b2b" stroke-width="1.2" />
<polygon points="152.90,548.45 153.53,550.13 155.33,550.21 153.93,551.33 154.40,553.06 152.90,552.08 151.40,553.06 151.87,551.33 150.47,550.21 152.27,550.13" fill="#222"/>
<polygon points="158.40,548.45 159.03,550.13 160.83,550.21 159.43,551.33 159.90,553.06 158.40,552.08 156.90,553.06 157.37,551.33 155.97,550.21 157.77,550.13" fill="#222"/>
<polygon points="163.90,548.45 164.53,550.13 166.33,550.21 164.93,551.33 165.40,553.06 163.90,552.08 162.40,553.06 162.87,551.33 161.47,550.21 163.27,550.13" fill="#222"/>
<line x1="76.30" y1="562.10" x2="95.80" y2="562.10" stroke="#7ab8e2" stroke-width="1.6" />
<circle cx="78.80" cy="562.10" r="1.80" fill="#7ab8e2" />
<circle cx="86.00" cy="562.10" r="1.80" fill="#7ab8e2" />
<circle cx="92.70" cy="562.10" r="1.80" fill="#7ab8e2" />
<line x1="115.60" y1="614.20" x2="115.60" y2="618.60" stroke="#4f6fc6" stroke-width="1.0" />
<line x1="110.70" y1="614.20" x2="120.50" y2="614.20" stroke="#4f6fc6" stroke-width="1.0" />
<line x1="110.70" y1="618.60" x2="120.50" y2="618.60" stroke="#4f6fc6" stroke-width="1.0" />
<line x1="106.00" y1="616.50" x2="125.40" y2="616.50" stroke="#4f6fc6" stroke-width="1.6" />
<circle cx="109.00" cy="618.50" r="1.80" fill="#4f6fc6" />
<circle cx="115.60" cy="613.60" r="1.80" fill="#4f6fc6" />
<circle cx="122.30" cy="616.50" r="1.80" fill="#4f6fc6" />
<line x1="136.00" y1="562.10" x2="155.00" y2="562.10" stroke="#7ab8e2" stroke-width="1.6" />
<circle cx="137.30" cy="562.10" r="1.80" fill="#7ab8e2" />
<circle cx="145.40" cy="562.10" r="1.80" fill="#7ab8e2" />
<circle cx="153.00" cy="562.10" r="1.80" fill="#7ab8e2" />
<line x1="175.50" y1="628.10" x2="175.50" y2="635.30" stroke="#4f6fc6" stroke-width="1.0" />
<line x1="170.60" y1="628.10" x2="180.40" y2="628.10" stroke="#4f6fc6" stroke-width="1.0" />
<line x1="170.60" y1="635.30" x2="180.40" y2="635.30" stroke="#4f6fc6" stroke-width="1.0" />
<line x1="165.30" y1="631.80" x2="185.10" y2="631.80" stroke="#4f6fc6" stroke-width="1.6" />
<circle cx="175.50" cy="627.70" r="1.80" fill="#4f6fc6" />
<circle cx="169.00" cy="635.30" r="1.80" fill="#4f6fc6" />
<circle cx="182.00" cy="633.60" r="1.80" fill="#4f6fc6" />
<text transform="translate(230.20,507.60) scale(1,1.07)" x="0" y="0" font-size="14" font-weight="bold" fill="#111" >G</text>
<text transform="translate(353.90,507.90) scale(1,1.07)" x="0" y="0" font-size="14" text-anchor="middle" stroke="#231f20" stroke-width="0.2" textLength="77.00" lengthAdjust="spacingAndGlyphs" >MIA PaCa-2</text>
<line x1="293.60" y1="541.90" x2="293.60" y2="603.90" stroke="#3a3a3a" stroke-width="1.3" />
<line x1="293.60" y1="615.90" x2="293.60" y2="677.60" stroke="#3a3a3a" stroke-width="1.3" />
<line x1="286.80" y1="541.90" x2="293.60" y2="541.90" stroke="#3a3a3a" stroke-width="1.3" />
<line x1="286.80" y1="572.90" x2="293.60" y2="572.90" stroke="#3a3a3a" stroke-width="1.3" />
<line x1="290.00" y1="603.90" x2="297.60" y2="603.90" stroke="#3a3a3a" stroke-width="1.3" />
<line x1="290.00" y1="615.90" x2="297.60" y2="615.90" stroke="#3a3a3a" stroke-width="1.3" />
<line x1="286.80" y1="646.80" x2="293.60" y2="646.80" stroke="#3a3a3a" stroke-width="1.3" />
<line x1="286.80" y1="677.60" x2="421.60" y2="677.60" stroke="#3a3a3a" stroke-width="1.3" />
<text transform="translate(282.20,546.70) scale(1,1.07)" x="0" y="0" font-size="13.5" text-anchor="end" stroke="#231f20" stroke-width="0.2" >200</text>
<text transform="translate(282.20,577.70) scale(1,1.07)" x="0" y="0" font-size="13.5" text-anchor="end" stroke="#231f20" stroke-width="0.2" >160</text>
<text transform="translate(282.20,608.70) scale(1,1.07)" x="0" y="0" font-size="13.5" text-anchor="end" stroke="#231f20" stroke-width="0.2" >120</text>
<text transform="translate(282.20,620.70) scale(1,1.07)" x="0" y="0" font-size="13.5" text-anchor="end" stroke="#231f20" stroke-width="0.2" >1.0</text>
<text transform="translate(282.20,651.60) scale(1,1.07)" x="0" y="0" font-size="13.5" text-anchor="end" stroke="#231f20" stroke-width="0.2" >0.5</text>
<text transform="translate(282.20,682.40) scale(1,1.07)" x="0" y="0" font-size="13.5" text-anchor="end" stroke="#231f20" stroke-width="0.2" >0.0</text>
<line x1="311.60" y1="677.60" x2="311.60" y2="684.60" stroke="#3a3a3a" stroke-width="1.3" />
<line x1="342.20" y1="677.60" x2="342.20" y2="684.60" stroke="#3a3a3a" stroke-width="1.3" />
<line x1="372.90" y1="677.60" x2="372.90" y2="684.60" stroke="#3a3a3a" stroke-width="1.3" />
<line x1="403.10" y1="677.60" x2="403.10" y2="684.60" stroke="#3a3a3a" stroke-width="1.3" />
<text transform="translate(311.60,703.20) scale(1,1.07)" x="0" y="0" font-size="13.5" text-anchor="middle" stroke="#231f20" stroke-width="0.2" >-</text>
<text transform="translate(311.60,721.90) scale(1,1.07)" x="0" y="0" font-size="13.5" text-anchor="middle" stroke="#231f20" stroke-width="0.2" >-</text>
<text transform="translate(342.20,703.20) scale(1,1.07)" x="0" y="0" font-size="13.5" text-anchor="middle" stroke="#231f20" stroke-width="0.2" >-</text>
<text transform="translate(342.20,721.90) scale(1,1.07)" x="0" y="0" font-size="13.5" text-anchor="middle" stroke="#231f20" stroke-width="0.2" >+</text>
<text transform="translate(372.90,703.20) scale(1,1.07)" x="0" y="0" font-size="13.5" text-anchor="middle" stroke="#231f20" stroke-width="0.2" >+</text>
<text transform="translate(372.90,721.90) scale(1,1.07)" x="0" y="0" font-size="13.5" text-anchor="middle" stroke="#231f20" stroke-width="0.2" >-</text>
<text transform="translate(403.10,703.20) scale(1,1.07)" x="0" y="0" font-size="13.5" text-anchor="middle" stroke="#231f20" stroke-width="0.2" >+</text>
<text transform="translate(403.10,721.90) scale(1,1.07)" x="0" y="0" font-size="13.5" text-anchor="middle" stroke="#231f20" stroke-width="0.2" >+</text>
<text transform="translate(231.00,703.20) scale(1,1.07)" x="0" y="0" font-size="13.5" stroke="#231f20" stroke-width="0.2" textLength="65.20" lengthAdjust="spacingAndGlyphs" >Hypoxia(h)</text>
<text transform="translate(231.00,721.90) scale(1,1.07)" x="0" y="0" font-size="13.5" stroke="#231f20" stroke-width="0.2" textLength="69.60" lengthAdjust="spacingAndGlyphs" >pLV-485-3p</text>
<text transform="translate(240.30,605.30) rotate(-90)" x="0" y="0" font-size="14" text-anchor="middle" stroke="#231f20" stroke-width="0.2" textLength="155.00" lengthAdjust="spacingAndGlyphs">Relative expression level</text>
<text transform="translate(256.70,605.50) rotate(-90)" x="0" y="0" font-size="14" text-anchor="middle" stroke="#231f20" stroke-width="0.2" textLength="88.60" lengthAdjust="spacingAndGlyphs">of miR-485-3p</text>
<line x1="312.00" y1="554.50" x2="342.80" y2="554.50" stroke="#2b2b2b" stroke-width="1.2" />
<polygon points="322.10,545.85 322.73,547.53 324.53,547.61 323.13,548.73 323.60,550.46 322.10,549.48 320.60,550.46 321.07,548.73 319.67,547.61 321.47,547.53" fill="#222"/>
<polygon points="327.60,545.85 328.23,547.53 330.03,547.61 328.63,548.73 329.10,550.46 327.60,549.48 326.10,550.46 326.57,548.73 325.17,547.61 326.97,547.53" fill="#222"/>
<polygon points="333.10,545.85 333.73,547.53 335.53,547.61 334.13,548.73 334.60,550.46 333.10,549.48 331.60,550.46 332.07,548.73 330.67,547.61 332.47,547.53" fill="#222"/>
<line x1="312.00" y1="542.30" x2="372.90" y2="542.30" stroke="#2b2b2b" stroke-width="1.2" />
<polygon points="337.00,533.55 337.63,535.23 339.43,535.31 338.03,536.43 338.50,538.16 337.00,537.18 335.50,538.16 335.97,536.43 334.57,535.31 336.37,535.23" fill="#222"/>
<polygon points="342.50,533.55 343.13,535.23 344.93,535.31 343.53,536.43 344.00,538.16 342.50,537.18 341.00,538.16 341.47,536.43 340.07,535.31 341.87,535.23" fill="#222"/>
<polygon points="348.00,533.55 348.63,535.23 350.43,535.31 349.03,536.43 349.50,538.16 348.00,537.18 346.50,538.16 346.97,536.43 345.57,535.31 347.37,535.23" fill="#222"/>
<line x1="373.00" y1="572.40" x2="403.80" y2="572.40" stroke="#2b2b2b" stroke-width="1.2" />
<polygon points="382.70,564.45 383.33,566.13 385.13,566.21 383.73,567.33 384.20,569.06 382.70,568.08 381.20,569.06 381.67,567.33 380.27,566.21 382.07,566.13" fill="#222"/>
<polygon points="388.20,564.45 388.83,566.13 390.63,566.21 389.23,567.33 389.70,569.06 388.20,568.08 386.70,569.06 387.17,567.33 385.77,566.21 387.57,566.13" fill="#222"/>
<polygon points="393.70,564.45 394.33,566.13 396.13,566.21 394.73,567.33 395.20,569.06 393.70,568.08 392.20,569.06 392.67,567.33 391.27,566.21 393.07,566.13" fill="#222"/>
<line x1="302.00" y1="615.80" x2="321.70" y2="615.80" stroke="#7ab8e2" stroke-width="1.1" />
<circle cx="303.50" cy="615.80" r="1.80" fill="#7ab8e2" />
<circle cx="309.20" cy="615.80" r="1.80" fill="#7ab8e2" />
<circle cx="314.90" cy="615.80" r="1.80" fill="#7ab8e2" />
<circle cx="320.70" cy="615.80" r="1.80" fill="#7ab8e2" />
<line x1="342.30" y1="562.50" x2="342.30" y2="579.10" stroke="#4f6fc6" stroke-width="1.0" />
<line x1="337.30" y1="562.50" x2="347.30" y2="562.50" stroke="#4f6fc6" stroke-width="1.0" />
<line x1="337.30" y1="579.10" x2="347.30" y2="579.10" stroke="#4f6fc6" stroke-width="1.0" />
<line x1="332.20" y1="571.10" x2="352.70" y2="571.10" stroke="#4f6fc6" stroke-width="1.5" />
<circle cx="342.30" cy="559.40" r="1.70" fill="#4f6fc6" />
<circle cx="342.30" cy="575.00" r="1.70" fill="#4f6fc6" />
<circle cx="342.30" cy="578.40" r="1.70" fill="#4f6fc6" />
<line x1="372.80" y1="639.40" x2="372.80" y2="651.30" stroke="#f1ae46" stroke-width="1.0" />
<line x1="367.80" y1="639.40" x2="377.80" y2="639.40" stroke="#f1ae46" stroke-width="1.0" />
<line x1="367.80" y1="651.30" x2="377.80" y2="651.30" stroke="#f1ae46" stroke-width="1.0" />
<line x1="362.60" y1="644.90" x2="383.00" y2="644.90" stroke="#f1ae46" stroke-width="1.5" />
<circle cx="366.50" cy="641.50" r="1.60" fill="#f1ae46" />
<circle cx="378.50" cy="642.20" r="1.60" fill="#f1ae46" />
<circle cx="372.80" cy="643.20" r="1.60" fill="#f1ae46" />
<circle cx="372.80" cy="653.90" r="1.60" fill="#f1ae46" />
<line x1="403.40" y1="579.00" x2="403.40" y2="589.60" stroke="#e8613a" stroke-width="1.0" />
<line x1="398.50" y1="579.00" x2="408.30" y2="579.00" stroke="#e8613a" stroke-width="1.0" />
<line x1="398.50" y1="589.60" x2="408.30" y2="589.60" stroke="#e8613a" stroke-width="1.0" />
<line x1="393.20" y1="584.00" x2="413.50" y2="584.00" stroke="#e8613a" stroke-width="1.5" />
<circle cx="403.40" cy="576.40" r="1.60" fill="#e8613a" />
<circle cx="397.40" cy="588.10" r="1.60" fill="#e8613a" />
<circle cx="408.90" cy="587.40" r="1.60" fill="#e8613a" />
<circle cx="403.40" cy="584.00" r="1.60" fill="#e8613a" />
<text transform="translate(460.80,507.50) scale(1,1.07)" x="0" y="0" font-size="14" font-weight="bold" fill="#111" >H</text>
<text transform="translate(575.40,507.50) scale(1,1.07)" x="0" y="0" font-size="14" text-anchor="middle" stroke="#231f20" stroke-width="0.2" textLength="48.00" lengthAdjust="spacingAndGlyphs" >PANC-1</text>
<line x1="524.60" y1="539.00" x2="524.60" y2="600.50" stroke="#3a3a3a" stroke-width="1.3" />
<line x1="524.60" y1="612.80" x2="524.60" y2="674.80" stroke="#3a3a3a" stroke-width="1.3" />
<line x1="517.80" y1="539.00" x2="524.60" y2="539.00" stroke="#3a3a3a" stroke-width="1.3" />
<line x1="517.80" y1="569.70" x2="524.60" y2="569.70" stroke="#3a3a3a" stroke-width="1.3" />
<line x1="521.00" y1="600.50" x2="528.60" y2="600.50" stroke="#3a3a3a" stroke-width="1.3" />
<line x1="521.00" y1="612.80" x2="528.60" y2="612.80" stroke="#3a3a3a" stroke-width="1.3" />
<line x1="517.80" y1="643.80" x2="524.60" y2="643.80" stroke="#3a3a3a" stroke-width="1.3" />
<line x1="517.80" y1="674.80" x2="652.30" y2="674.80" stroke="#3a3a3a" stroke-width="1.3" />
<text transform="translate(513.60,543.80) scale(1,1.07)" x="0" y="0" font-size="13.5" text-anchor="end" stroke="#231f20" stroke-width="0.2" >200</text>
<text transform="translate(513.60,574.50) scale(1,1.07)" x="0" y="0" font-size="13.5" text-anchor="end" stroke="#231f20" stroke-width="0.2" >160</text>
<text transform="translate(513.60,605.30) scale(1,1.07)" x="0" y="0" font-size="13.5" text-anchor="end" stroke="#231f20" stroke-width="0.2" >120</text>
<text transform="translate(513.60,617.60) scale(1,1.07)" x="0" y="0" font-size="13.5" text-anchor="end" stroke="#231f20" stroke-width="0.2" >1.0</text>
<text transform="translate(513.60,648.60) scale(1,1.07)" x="0" y="0" font-size="13.5" text-anchor="end" stroke="#231f20" stroke-width="0.2" >0.5</text>
<text transform="translate(513.60,679.60) scale(1,1.07)" x="0" y="0" font-size="13.5" text-anchor="end" stroke="#231f20" stroke-width="0.2" >0.0</text>
<line x1="543.10" y1="674.80" x2="543.10" y2="681.80" stroke="#3a3a3a" stroke-width="1.3" />
<line x1="573.30" y1="674.80" x2="573.30" y2="681.80" stroke="#3a3a3a" stroke-width="1.3" />
<line x1="603.40" y1="674.80" x2="603.40" y2="681.80" stroke="#3a3a3a" stroke-width="1.3" />
<line x1="633.50" y1="674.80" x2="633.50" y2="681.80" stroke="#3a3a3a" stroke-width="1.3" />
<text transform="translate(543.10,701.40) scale(1,1.07)" x="0" y="0" font-size="13.5" text-anchor="middle" stroke="#231f20" stroke-width="0.2" >-</text>
<text transform="translate(543.10,719.80) scale(1,1.07)" x="0" y="0" font-size="13.5" text-anchor="middle" stroke="#231f20" stroke-width="0.2" >-</text>
<text transform="translate(573.30,701.40) scale(1,1.07)" x="0" y="0" font-size="13.5" text-anchor="middle" stroke="#231f20" stroke-width="0.2" >-</text>
<text transform="translate(573.30,719.80) scale(1,1.07)" x="0" y="0" font-size="13.5" text-anchor="middle" stroke="#231f20" stroke-width="0.2" >+</text>
<text transform="translate(603.40,701.40) scale(1,1.07)" x="0" y="0" font-size="13.5" text-anchor="middle" stroke="#231f20" stroke-width="0.2" >+</text>
<text transform="translate(603.40,719.80) scale(1,1.07)" x="0" y="0" font-size="13.5" text-anchor="middle" stroke="#231f20" stroke-width="0.2" >-</text>
<text transform="translate(633.50,701.40) scale(1,1.07)" x="0" y="0" font-size="13.5" text-anchor="middle" stroke="#231f20" stroke-width="0.2" >+</text>
<text transform="translate(633.50,719.80) scale(1,1.07)" x="0" y="0" font-size="13.5" text-anchor="middle" stroke="#231f20" stroke-width="0.2" >+</text>
<text transform="translate(461.00,701.40) scale(1,1.07)" x="0" y="0" font-size="13.5" stroke="#231f20" stroke-width="0.2" textLength="65.20" lengthAdjust="spacingAndGlyphs" >Hypoxia(h)</text>
<text transform="translate(461.00,719.80) scale(1,1.07)" x="0" y="0" font-size="13.5" stroke="#231f20" stroke-width="0.2" textLength="69.60" lengthAdjust="spacingAndGlyphs" >pLV-485-3p</text>
<text transform="translate(471.20,605.20) rotate(-90)" x="0" y="0" font-size="14" text-anchor="middle" stroke="#231f20" stroke-width="0.2" textLength="155.00" lengthAdjust="spacingAndGlyphs">Relative expression level</text>
<text transform="translate(486.80,605.20) rotate(-90)" x="0" y="0" font-size="14" text-anchor="middle" stroke="#231f20" stroke-width="0.2" textLength="88.60" lengthAdjust="spacingAndGlyphs">of miR-485-3p</text>
<line x1="542.40" y1="535.50" x2="573.60" y2="535.50" stroke="#2b2b2b" stroke-width="1.2" />
<polygon points="553.20,526.85 553.83,528.53 555.63,528.61 554.23,529.73 554.70,531.46 553.20,530.48 551.70,531.46 552.17,529.73 550.77,528.61 552.57,528.53" fill="#222"/>
<polygon points="558.70,526.85 559.33,528.53 561.13,528.61 559.73,529.73 560.20,531.46 558.70,530.48 557.20,531.46 557.67,529.73 556.27,528.61 558.07,528.53" fill="#222"/>
<polygon points="564.20,526.85 564.83,528.53 566.63,528.61 565.23,529.73 565.70,531.46 564.20,530.48 562.70,531.46 563.17,529.73 561.77,528.61 563.57,528.53" fill="#222"/>
<line x1="542.40" y1="523.40" x2="603.20" y2="523.40" stroke="#2b2b2b" stroke-width="1.2" />
<polygon points="567.80,514.35 568.43,516.03 570.23,516.11 568.83,517.23 569.30,518.96 567.80,517.98 566.30,518.96 566.77,517.23 565.37,516.11 567.17,516.03" fill="#222"/>
<polygon points="573.30,514.35 573.93,516.03 575.73,516.11 574.33,517.23 574.80,518.96 573.30,517.98 571.80,518.96 572.27,517.23 570.87,516.11 572.67,516.03" fill="#222"/>
<polygon points="578.80,514.35 579.43,516.03 581.23,516.11 579.83,517.23 580.30,518.96 578.80,517.98 577.30,518.96 577.77,517.23 576.37,516.11 578.17,516.03" fill="#222"/>
<line x1="603.50" y1="567.80" x2="633.90" y2="567.80" stroke="#2b2b2b" stroke-width="1.2" />
<polygon points="613.00,559.75 613.63,561.43 615.43,561.51 614.03,562.63 614.50,564.36 613.00,563.38 611.50,564.36 611.97,562.63 610.57,561.51 612.37,561.43" fill="#222"/>
<polygon points="618.50,559.75 619.13,561.43 620.93,561.51 619.53,562.63 620.00,564.36 618.50,563.38 617.00,564.36 617.47,562.63 616.07,561.51 617.87,561.43" fill="#222"/>
<polygon points="624.00,559.75 624.63,561.43 626.43,561.51 625.03,562.63 625.50,564.36 624.00,563.38 622.50,564.36 622.97,562.63 621.57,561.51 623.37,561.43" fill="#222"/>
<line x1="533.80" y1="612.80" x2="552.70" y2="612.80" stroke="#7ab8e2" stroke-width="1.1" />
<circle cx="535.30" cy="612.80" r="1.80" fill="#7ab8e2" />
<circle cx="541.10" cy="612.80" r="1.80" fill="#7ab8e2" />
<circle cx="546.80" cy="612.80" r="1.80" fill="#7ab8e2" />
<circle cx="552.20" cy="612.80" r="1.80" fill="#7ab8e2" />
<line x1="573.40" y1="540.00" x2="573.40" y2="557.40" stroke="#4f6fc6" stroke-width="1.0" />
<line x1="568.40" y1="540.00" x2="578.40" y2="540.00" stroke="#4f6fc6" stroke-width="1.0" />
<line x1="568.40" y1="557.40" x2="578.40" y2="557.40" stroke="#4f6fc6" stroke-width="1.0" />
<line x1="563.40" y1="548.40" x2="583.50" y2="548.40" stroke="#4f6fc6" stroke-width="1.5" />
<circle cx="573.40" cy="541.30" r="1.70" fill="#4f6fc6" />
<circle cx="579.40" cy="541.30" r="1.70" fill="#4f6fc6" />
<circle cx="573.40" cy="552.50" r="1.70" fill="#4f6fc6" />
<circle cx="573.40" cy="559.00" r="1.70" fill="#4f6fc6" />
<line x1="594.70" y1="655.50" x2="613.50" y2="655.50" stroke="#f1ae46" stroke-width="1.5" />
<circle cx="595.10" cy="656.10" r="1.70" fill="#f1ae46" />
<circle cx="600.80" cy="654.10" r="1.70" fill="#f1ae46" />
<circle cx="606.00" cy="655.50" r="1.70" fill="#f1ae46" />
<circle cx="612.70" cy="655.50" r="1.70" fill="#f1ae46" />
<line x1="633.50" y1="571.30" x2="633.50" y2="581.50" stroke="#e8613a" stroke-width="1.0" />
<line x1="628.90" y1="571.30" x2="638.10" y2="571.30" stroke="#e8613a" stroke-width="1.0" />
<line x1="628.90" y1="581.50" x2="638.10" y2="581.50" stroke="#e8613a" stroke-width="1.0" />
<line x1="624.30" y1="576.40" x2="644.20" y2="576.40" stroke="#e8613a" stroke-width="1.5" />
<circle cx="634.10" cy="572.30" r="1.70" fill="#e8613a" />
<circle cx="639.70" cy="572.30" r="1.70" fill="#e8613a" />
<circle cx="634.10" cy="577.00" r="1.70" fill="#e8613a" />
<circle cx="634.10" cy="583.00" r="1.70" fill="#e8613a" />
<text transform="translate(6.20,755.90) scale(1,1.04)" x="0" y="0" font-size="14" font-weight="bold" fill="#111" >I</text>
<text transform="translate(123.50,757.90) scale(1,1.08)" x="0" y="0" font-size="14" text-anchor="middle" stroke="#231f20" stroke-width="0.2" textLength="73.90" lengthAdjust="spacingAndGlyphs" >MIA PaCa-2</text>
<line x1="2.80" y1="771.90" x2="19.70" y2="771.90" stroke="#7ab8e2" stroke-width="1.5" opacity="0.8"/>
<circle cx="11.10" cy="771.90" r="2.20" fill="#7ab8e2" />
<text transform="translate(21.30,774.80) scale(1,1.08)" x="0" y="0" font-size="11.4" stroke="#231f20" stroke-width="0.2" >pLV + Normoxia</text>
<text transform="translate(143.70,774.80) scale(1,1.08)" x="0" y="0" font-size="11.4" stroke="#231f20" stroke-width="0.2" textLength="77.60" lengthAdjust="spacingAndGlyphs" >IC50=41.98 nM</text>
<line x1="2.80" y1="788.00" x2="19.70" y2="788.00" stroke="#4f6fc6" stroke-width="1.5" opacity="0.8"/>
<rect x="9.20" y="786.10" width="3.80" height="3.80" rx="0" fill="#4f6fc6" />
<text transform="translate(21.30,790.90) scale(1,1.08)" x="0" y="0" font-size="11.4" stroke="#231f20" stroke-width="0.2" >pLV-485-3p + Normoxia</text>
<text transform="translate(143.70,790.90) scale(1,1.08)" x="0" y="0" font-size="11.4" stroke="#231f20" stroke-width="0.2" textLength="77.60" lengthAdjust="spacingAndGlyphs" >IC50=18.67 nM</text>
<line x1="2.80" y1="804.00" x2="19.70" y2="804.00" stroke="#f1ae46" stroke-width="1.5" opacity="0.8"/>
<path d="M8.90,805.70 L13.30,805.70 L11.10,801.70 Z" stroke="none" stroke-width="1" fill="#f1ae46" />
<text transform="translate(21.30,806.90) scale(1,1.08)" x="0" y="0" font-size="11.4" stroke="#231f20" stroke-width="0.2" >pLV + Hypoxia</text>
<text transform="translate(143.70,806.90) scale(1,1.08)" x="0" y="0" font-size="11.4" stroke="#231f20" stroke-width="0.2" textLength="77.60" lengthAdjust="spacingAndGlyphs" >IC50=103.3 nM</text>
<line x1="2.80" y1="820.30" x2="19.70" y2="820.30" stroke="#e8613a" stroke-width="1.5" opacity="0.8"/>
<path d="M8.90,818.60 L13.30,818.60 L11.10,822.60 Z" stroke="none" stroke-width="1" fill="#e8613a" />
<text transform="translate(21.30,823.20) scale(1,1.08)" x="0" y="0" font-size="11.4" stroke="#231f20" stroke-width="0.2" >pLV-485-3p + Hypoxia</text>
<text transform="translate(143.70,823.20) scale(1,1.08)" x="0" y="0" font-size="11.4" stroke="#231f20" stroke-width="0.2" textLength="77.60" lengthAdjust="spacingAndGlyphs" >IC50=28.77 nM</text>
<line x1="63.30" y1="836.60" x2="63.30" y2="975.80" stroke="#3a3a3a" stroke-width="1.3" />
<line x1="56.80" y1="975.80" x2="212.20" y2="975.80" stroke="#3a3a3a" stroke-width="1.3" />
<line x1="56.80" y1="836.60" x2="63.30" y2="836.60" stroke="#3a3a3a" stroke-width="1.3" />
<text transform="translate(54.80,841.40) scale(1,1.08)" x="0" y="0" font-size="13.5" text-anchor="end" stroke="#231f20" stroke-width="0.2" >120</text>
<line x1="56.80" y1="859.80" x2="63.30" y2="859.80" stroke="#3a3a3a" stroke-width="1.3" />
<text transform="translate(54.80,864.60) scale(1,1.08)" x="0" y="0" font-size="13.5" text-anchor="end" stroke="#231f20" stroke-width="0.2" >100</text>
<line x1="56.80" y1="883.00" x2="63.30" y2="883.00" stroke="#3a3a3a" stroke-width="1.3" />
<text transform="translate(54.80,887.80) scale(1,1.08)" x="0" y="0" font-size="13.5" text-anchor="end" stroke="#231f20" stroke-width="0.2" >80</text>
<line x1="56.80" y1="906.20" x2="63.30" y2="906.20" stroke="#3a3a3a" stroke-width="1.3" />
<text transform="translate(54.80,911.00) scale(1,1.08)" x="0" y="0" font-size="13.5" text-anchor="end" stroke="#231f20" stroke-width="0.2" >60</text>
<line x1="56.80" y1="929.40" x2="63.30" y2="929.40" stroke="#3a3a3a" stroke-width="1.3" />
<text transform="translate(54.80,934.20) scale(1,1.08)" x="0" y="0" font-size="13.5" text-anchor="end" stroke="#231f20" stroke-width="0.2" >40</text>
<line x1="56.80" y1="952.60" x2="63.30" y2="952.60" stroke="#3a3a3a" stroke-width="1.3" />
<text transform="translate(54.80,957.40) scale(1,1.08)" x="0" y="0" font-size="13.5" text-anchor="end" stroke="#231f20" stroke-width="0.2" >20</text>
<line x1="56.80" y1="975.80" x2="63.30" y2="975.80" stroke="#3a3a3a" stroke-width="1.3" />
<text transform="translate(54.80,980.60) scale(1,1.08)" x="0" y="0" font-size="13.5" text-anchor="end" stroke="#231f20" stroke-width="0.2" >0</text>
<line x1="63.10" y1="975.80" x2="63.10" y2="982.00" stroke="#3a3a3a" stroke-width="1.3" />
<text transform="translate(63.10,999.00) scale(1,1.08)" x="0" y="0" font-size="13.5" text-anchor="middle" stroke="#231f20" stroke-width="0.2" >0.0</text>
<line x1="87.85" y1="975.80" x2="87.85" y2="982.00" stroke="#3a3a3a" stroke-width="1.3" />
<text transform="translate(87.85,999.00) scale(1,1.08)" x="0" y="0" font-size="13.5" text-anchor="middle" stroke="#231f20" stroke-width="0.2" >0.5</text>
<line x1="112.60" y1="975.80" x2="112.60" y2="982.00" stroke="#3a3a3a" stroke-width="1.3" />
<text transform="translate(112.60,999.00) scale(1,1.08)" x="0" y="0" font-size="13.5" text-anchor="middle" stroke="#231f20" stroke-width="0.2" >1.0</text>
<line x1="137.35" y1="975.80" x2="137.35" y2="982.00" stroke="#3a3a3a" stroke-width="1.3" />
<text transform="translate(137.35,999.00) scale(1,1.08)" x="0" y="0" font-size="13.5" text-anchor="middle" stroke="#231f20" stroke-width="0.2" >1.5</text>
<line x1="162.10" y1="975.80" x2="162.10" y2="982.00" stroke="#3a3a3a" stroke-width="1.3" />
<text transform="translate(162.10,999.00) scale(1,1.08)" x="0" y="0" font-size="13.5" text-anchor="middle" stroke="#231f20" stroke-width="0.2" >2.0</text>
<line x1="186.85" y1="975.80" x2="186.85" y2="982.00" stroke="#3a3a3a" stroke-width="1.3" />
<text transform="translate(186.85,999.00) scale(1,1.08)" x="0" y="0" font-size="13.5" text-anchor="middle" stroke="#231f20" stroke-width="0.2" >2.5</text>
<line x1="211.60" y1="975.80" x2="211.60" y2="982.00" stroke="#3a3a3a" stroke-width="1.3" />
<text transform="translate(211.60,999.00) scale(1,1.08)" x="0" y="0" font-size="13.5" text-anchor="middle" stroke="#231f20" stroke-width="0.2" >3.0</text>
<text transform="translate(24.80,910.60) rotate(-90)" x="0" y="0" font-size="14" text-anchor="middle" stroke="#231f20" stroke-width="0.2" textLength="87.50" lengthAdjust="spacingAndGlyphs">Cell viablity %</text>
<text transform="translate(91.30,1014.90) scale(1,1.08)" x="0" y="0" font-size="14" stroke="#231f20" stroke-width="0.2" textLength="18.60" lengthAdjust="spacingAndGlyphs" >log</text>
<text transform="translate(109.70,1019.20) scale(1,1.08)" x="0" y="0" font-size="8.5" stroke="#231f20" stroke-width="0.2" textLength="9.00" lengthAdjust="spacingAndGlyphs" >10</text>
<text transform="translate(123.00,1014.90) scale(1,1.08)" x="0" y="0" font-size="13.8" stroke="#231f20" stroke-width="0.2" textLength="58.60" lengthAdjust="spacingAndGlyphs" >GEM(nM)</text>
<line x1="64.80" y1="917.6" x2="211.60" y2="917.6" stroke="#444" stroke-width="1.4" stroke-dasharray="2.6,1.8"/>
<path d="M92.80,864.68 L94.28,865.00 L95.77,865.34 L97.25,865.70 L98.74,866.08 L100.22,866.49 L101.71,866.92 L103.19,867.37 L104.68,867.86 L106.16,868.37 L107.65,868.91 L109.13,869.48 L110.62,870.09 L112.11,870.73 L113.59,871.40 L115.07,872.11 L116.56,872.86 L118.04,873.65 L119.53,874.48 L121.02,875.35 L122.50,876.26 L123.98,877.22 L125.47,878.23 L126.96,879.28 L128.44,880.38 L129.92,881.52 L131.41,882.72 L132.90,883.96 L134.38,885.26 L135.86,886.60 L137.35,887.99 L138.83,889.43 L140.32,890.92 L141.81,892.45 L143.29,894.03 L144.78,895.65 L146.26,897.31 L147.75,899.01 L149.23,900.75 L150.71,902.53 L152.20,904.33 L153.69,906.16 L155.17,908.02 L156.65,909.90 L158.14,911.80 L159.62,913.70 L161.11,915.62 L162.59,917.54 L164.08,919.47 L165.56,921.39 L167.05,923.30 L168.53,925.20 L170.02,927.08 L171.50,928.94 L172.99,930.78 L174.47,932.59 L175.96,934.38 L177.44,936.13 L178.93,937.84 L180.41,939.51 L181.90,941.14" stroke="#f1ae46" stroke-width="1.1" fill="none" />
<path d="M92.80,869.42 L94.28,870.06 L95.77,870.74 L97.25,871.46 L98.74,872.22 L100.22,873.03 L101.71,873.87 L103.19,874.77 L104.68,875.71 L106.16,876.70 L107.65,877.75 L109.13,878.84 L110.62,879.99 L112.11,881.19 L113.59,882.45 L115.07,883.76 L116.56,885.13 L118.04,886.55 L119.53,888.03 L121.02,889.56 L122.50,891.15 L123.98,892.78 L125.47,894.47 L126.96,896.21 L128.44,897.99 L129.92,899.82 L131.41,901.68 L132.90,903.59 L134.38,905.52 L135.86,907.49 L137.35,909.48 L138.83,911.49 L140.32,913.52 L141.81,915.55 L143.29,917.60 L144.78,919.64 L146.26,921.68 L147.75,923.71 L149.23,925.72 L150.71,927.71 L152.20,929.68 L153.69,931.63 L155.17,933.54 L156.65,935.41 L158.14,937.25 L159.62,939.04 L161.11,940.78 L162.59,942.48 L164.08,944.13 L165.56,945.73 L167.05,947.27 L168.53,948.76 L170.02,950.19 L171.50,951.57 L172.99,952.89 L174.47,954.16 L175.96,955.37 L177.44,956.53 L178.93,957.64 L180.41,958.69 L181.90,959.69" stroke="#7ab8e2" stroke-width="1.1" fill="none" />
<path d="M92.80,878.62 L94.28,879.54 L95.77,880.50 L97.25,881.49 L98.74,882.52 L100.22,883.59 L101.71,884.69 L103.19,885.83 L104.68,887.00 L106.16,888.22 L107.65,889.46 L109.13,890.75 L110.62,892.07 L112.11,893.42 L113.59,894.80 L115.07,896.22 L116.56,897.67 L118.04,899.14 L119.53,900.65 L121.02,902.18 L122.50,903.73 L123.98,905.31 L125.47,906.90 L126.96,908.51 L128.44,910.14 L129.92,911.78 L131.41,913.43 L132.90,915.09 L134.38,916.75 L135.86,918.41 L137.35,920.07 L138.83,921.73 L140.32,923.38 L141.81,925.02 L143.29,926.65 L144.78,928.27 L146.26,929.87 L147.75,931.45 L149.23,933.01 L150.71,934.55 L152.20,936.06 L153.69,937.54 L155.17,939.00 L156.65,940.42 L158.14,941.82 L159.62,943.18 L161.11,944.50 L162.59,945.80 L164.08,947.06 L165.56,948.28 L167.05,949.46 L168.53,950.61 L170.02,951.72 L171.50,952.80 L172.99,953.84 L174.47,954.84 L175.96,955.81 L177.44,956.74 L178.93,957.63 L180.41,958.50 L181.90,959.32" stroke="#e8613a" stroke-width="1.1" fill="none" />
<path d="M92.80,885.60 L94.28,886.74 L95.77,887.92 L97.25,889.13 L98.74,890.37 L100.22,891.65 L101.71,892.96 L103.19,894.30 L104.68,895.67 L106.16,897.07 L107.65,898.50 L109.13,899.95 L110.62,901.44 L112.11,902.94 L113.59,904.47 L115.07,906.01 L116.56,907.58 L118.04,909.16 L119.53,910.75 L121.02,912.35 L122.50,913.97 L123.98,915.58 L125.47,917.21 L126.96,918.83 L128.44,920.45 L129.92,922.07 L131.41,923.68 L132.90,925.28 L134.38,926.87 L135.86,928.44 L137.35,930.00 L138.83,931.54 L140.32,933.06 L141.81,934.56 L143.29,936.04 L144.78,937.49 L146.26,938.91 L147.75,940.30 L149.23,941.66 L150.71,943.00 L152.20,944.30 L153.69,945.56 L155.17,946.80 L156.65,948.00 L158.14,949.16 L159.62,950.29 L161.11,951.39 L162.59,952.45 L164.08,953.48 L165.56,954.47 L167.05,955.43 L168.53,956.35 L170.02,957.24 L171.50,958.09 L172.99,958.92 L174.47,959.71 L175.96,960.47 L177.44,961.20 L178.93,961.90 L180.41,962.57 L181.90,963.21" stroke="#4f6fc6" stroke-width="1.1" fill="none" />
<line x1="92.80" y1="857.48" x2="92.80" y2="869.08" stroke="#f1ae46" stroke-width="0.9" />
<line x1="90.50" y1="857.48" x2="95.10" y2="857.48" stroke="#f1ae46" stroke-width="0.9" />
<line x1="90.50" y1="869.08" x2="95.10" y2="869.08" stroke="#f1ae46" stroke-width="0.9" />
<path d="M90.10,865.48 L95.50,865.48 L92.80,860.68 Z" stroke="none" stroke-width="1" fill="#f1ae46" />
<line x1="107.65" y1="863.28" x2="107.65" y2="870.24" stroke="#f1ae46" stroke-width="0.9" />
<line x1="105.35" y1="863.28" x2="109.95" y2="863.28" stroke="#f1ae46" stroke-width="0.9" />
<line x1="105.35" y1="870.24" x2="109.95" y2="870.24" stroke="#f1ae46" stroke-width="0.9" />
<path d="M104.95,868.96 L110.35,868.96 L107.65,864.16 Z" stroke="none" stroke-width="1" fill="#f1ae46" />
<line x1="122.50" y1="868.62" x2="122.50" y2="880.22" stroke="#f1ae46" stroke-width="0.9" />
<line x1="120.20" y1="868.62" x2="124.80" y2="868.62" stroke="#f1ae46" stroke-width="0.9" />
<line x1="120.20" y1="880.22" x2="124.80" y2="880.22" stroke="#f1ae46" stroke-width="0.9" />
<path d="M119.80,876.62 L125.20,876.62 L122.50,871.82 Z" stroke="none" stroke-width="1" fill="#f1ae46" />
<line x1="137.35" y1="883.35" x2="137.35" y2="897.27" stroke="#f1ae46" stroke-width="0.9" />
<line x1="135.05" y1="883.35" x2="139.65" y2="883.35" stroke="#f1ae46" stroke-width="0.9" />
<line x1="135.05" y1="897.27" x2="139.65" y2="897.27" stroke="#f1ae46" stroke-width="0.9" />
<path d="M134.65,892.51 L140.05,892.51 L137.35,887.71 Z" stroke="none" stroke-width="1" fill="#f1ae46" />
<line x1="152.20" y1="900.52" x2="152.20" y2="912.12" stroke="#f1ae46" stroke-width="0.9" />
<line x1="149.90" y1="900.52" x2="154.50" y2="900.52" stroke="#f1ae46" stroke-width="0.9" />
<line x1="149.90" y1="912.12" x2="154.50" y2="912.12" stroke="#f1ae46" stroke-width="0.9" />
<path d="M149.50,908.52 L154.90,908.52 L152.20,903.72 Z" stroke="none" stroke-width="1" fill="#f1ae46" />
<line x1="167.05" y1="924.06" x2="167.05" y2="928.70" stroke="#f1ae46" stroke-width="0.9" />
<line x1="164.75" y1="924.06" x2="169.35" y2="924.06" stroke="#f1ae46" stroke-width="0.9" />
<line x1="164.75" y1="928.70" x2="169.35" y2="928.70" stroke="#f1ae46" stroke-width="0.9" />
<path d="M164.35,928.58 L169.75,928.58 L167.05,923.78 Z" stroke="none" stroke-width="1" fill="#f1ae46" />
<line x1="181.90" y1="932.07" x2="181.90" y2="939.03" stroke="#f1ae46" stroke-width="0.9" />
<line x1="179.60" y1="932.07" x2="184.20" y2="932.07" stroke="#f1ae46" stroke-width="0.9" />
<line x1="179.60" y1="939.03" x2="184.20" y2="939.03" stroke="#f1ae46" stroke-width="0.9" />
<path d="M179.20,937.75 L184.60,937.75 L181.90,932.95 Z" stroke="none" stroke-width="1" fill="#f1ae46" />
<line x1="92.80" y1="861.66" x2="92.80" y2="868.62" stroke="#7ab8e2" stroke-width="0.9" />
<line x1="90.50" y1="861.66" x2="95.10" y2="861.66" stroke="#7ab8e2" stroke-width="0.9" />
<line x1="90.50" y1="868.62" x2="95.10" y2="868.62" stroke="#7ab8e2" stroke-width="0.9" />
<circle cx="92.80" cy="865.14" r="2.35" fill="#7ab8e2" />
<line x1="107.65" y1="870.47" x2="107.65" y2="875.11" stroke="#7ab8e2" stroke-width="0.9" />
<line x1="105.35" y1="870.47" x2="109.95" y2="870.47" stroke="#7ab8e2" stroke-width="0.9" />
<line x1="105.35" y1="875.11" x2="109.95" y2="875.11" stroke="#7ab8e2" stroke-width="0.9" />
<circle cx="107.65" cy="872.79" r="2.35" fill="#7ab8e2" />
<line x1="122.50" y1="883.23" x2="122.50" y2="892.51" stroke="#7ab8e2" stroke-width="0.9" />
<line x1="120.20" y1="883.23" x2="124.80" y2="883.23" stroke="#7ab8e2" stroke-width="0.9" />
<line x1="120.20" y1="892.51" x2="124.80" y2="892.51" stroke="#7ab8e2" stroke-width="0.9" />
<circle cx="122.50" cy="887.87" r="2.35" fill="#7ab8e2" />
<line x1="137.35" y1="912.00" x2="137.35" y2="918.96" stroke="#7ab8e2" stroke-width="0.9" />
<line x1="135.05" y1="912.00" x2="139.65" y2="912.00" stroke="#7ab8e2" stroke-width="0.9" />
<line x1="135.05" y1="918.96" x2="139.65" y2="918.96" stroke="#7ab8e2" stroke-width="0.9" />
<circle cx="137.35" cy="915.48" r="2.35" fill="#7ab8e2" />
<line x1="152.20" y1="931.49" x2="152.20" y2="936.13" stroke="#7ab8e2" stroke-width="0.9" />
<line x1="149.90" y1="931.49" x2="154.50" y2="931.49" stroke="#7ab8e2" stroke-width="0.9" />
<line x1="149.90" y1="936.13" x2="154.50" y2="936.13" stroke="#7ab8e2" stroke-width="0.9" />
<circle cx="152.20" cy="933.81" r="2.35" fill="#7ab8e2" />
<line x1="167.05" y1="942.86" x2="167.05" y2="949.82" stroke="#7ab8e2" stroke-width="0.9" />
<line x1="164.75" y1="942.86" x2="169.35" y2="942.86" stroke="#7ab8e2" stroke-width="0.9" />
<line x1="164.75" y1="949.82" x2="169.35" y2="949.82" stroke="#7ab8e2" stroke-width="0.9" />
<circle cx="167.05" cy="946.34" r="2.35" fill="#7ab8e2" />
<line x1="181.90" y1="947.73" x2="181.90" y2="952.37" stroke="#7ab8e2" stroke-width="0.9" />
<line x1="179.60" y1="947.73" x2="184.20" y2="947.73" stroke="#7ab8e2" stroke-width="0.9" />
<line x1="179.60" y1="952.37" x2="184.20" y2="952.37" stroke="#7ab8e2" stroke-width="0.9" />
<circle cx="181.90" cy="950.05" r="2.35" fill="#7ab8e2" />
<line x1="92.80" y1="865.25" x2="92.80" y2="876.85" stroke="#e8613a" stroke-width="0.9" />
<line x1="90.50" y1="865.25" x2="95.10" y2="865.25" stroke="#e8613a" stroke-width="0.9" />
<line x1="90.50" y1="876.85" x2="95.10" y2="876.85" stroke="#e8613a" stroke-width="0.9" />
<path d="M90.10,868.85 L95.50,868.85 L92.80,873.65 Z" stroke="none" stroke-width="1" fill="#e8613a" />
<line x1="107.65" y1="882.19" x2="107.65" y2="891.47" stroke="#e8613a" stroke-width="0.9" />
<line x1="105.35" y1="882.19" x2="109.95" y2="882.19" stroke="#e8613a" stroke-width="0.9" />
<line x1="105.35" y1="891.47" x2="109.95" y2="891.47" stroke="#e8613a" stroke-width="0.9" />
<path d="M104.95,884.63 L110.35,884.63 L107.65,889.43 Z" stroke="none" stroke-width="1" fill="#e8613a" />
<line x1="122.50" y1="900.05" x2="122.50" y2="909.33" stroke="#e8613a" stroke-width="0.9" />
<line x1="120.20" y1="900.05" x2="124.80" y2="900.05" stroke="#e8613a" stroke-width="0.9" />
<line x1="120.20" y1="909.33" x2="124.80" y2="909.33" stroke="#e8613a" stroke-width="0.9" />
<path d="M119.80,902.49 L125.20,902.49 L122.50,907.29 Z" stroke="none" stroke-width="1" fill="#e8613a" />
<line x1="137.35" y1="922.09" x2="137.35" y2="926.73" stroke="#e8613a" stroke-width="0.9" />
<line x1="135.05" y1="922.09" x2="139.65" y2="922.09" stroke="#e8613a" stroke-width="0.9" />
<line x1="135.05" y1="926.73" x2="139.65" y2="926.73" stroke="#e8613a" stroke-width="0.9" />
<path d="M134.65,922.21 L140.05,922.21 L137.35,927.01 Z" stroke="none" stroke-width="1" fill="#e8613a" />
<line x1="152.20" y1="935.43" x2="152.20" y2="942.39" stroke="#e8613a" stroke-width="0.9" />
<line x1="149.90" y1="935.43" x2="154.50" y2="935.43" stroke="#e8613a" stroke-width="0.9" />
<line x1="149.90" y1="942.39" x2="154.50" y2="942.39" stroke="#e8613a" stroke-width="0.9" />
<path d="M149.50,936.71 L154.90,936.71 L152.20,941.51 Z" stroke="none" stroke-width="1" fill="#e8613a" />
<line x1="167.05" y1="945.99" x2="167.05" y2="950.63" stroke="#e8613a" stroke-width="0.9" />
<line x1="164.75" y1="945.99" x2="169.35" y2="945.99" stroke="#e8613a" stroke-width="0.9" />
<line x1="164.75" y1="950.63" x2="169.35" y2="950.63" stroke="#e8613a" stroke-width="0.9" />
<path d="M164.35,946.11 L169.75,946.11 L167.05,950.91 Z" stroke="none" stroke-width="1" fill="#e8613a" />
<line x1="181.90" y1="945.29" x2="181.90" y2="949.93" stroke="#e8613a" stroke-width="0.9" />
<line x1="179.60" y1="945.29" x2="184.20" y2="945.29" stroke="#e8613a" stroke-width="0.9" />
<line x1="179.60" y1="949.93" x2="184.20" y2="949.93" stroke="#e8613a" stroke-width="0.9" />
<path d="M179.20,945.41 L184.60,945.41 L181.90,950.21 Z" stroke="none" stroke-width="1" fill="#e8613a" />
<line x1="92.80" y1="876.04" x2="92.80" y2="883.00" stroke="#4f6fc6" stroke-width="0.9" />
<line x1="90.50" y1="876.04" x2="95.10" y2="876.04" stroke="#4f6fc6" stroke-width="0.9" />
<line x1="90.50" y1="883.00" x2="95.10" y2="883.00" stroke="#4f6fc6" stroke-width="0.9" />
<rect x="90.70" y="877.42" width="4.20" height="4.20" rx="0" fill="#4f6fc6" />
<line x1="107.65" y1="891.35" x2="107.65" y2="900.63" stroke="#4f6fc6" stroke-width="0.9" />
<line x1="105.35" y1="891.35" x2="109.95" y2="891.35" stroke="#4f6fc6" stroke-width="0.9" />
<line x1="105.35" y1="900.63" x2="109.95" y2="900.63" stroke="#4f6fc6" stroke-width="0.9" />
<rect x="105.55" y="893.89" width="4.20" height="4.20" rx="0" fill="#4f6fc6" />
<line x1="122.50" y1="912.00" x2="122.50" y2="918.96" stroke="#4f6fc6" stroke-width="0.9" />
<line x1="120.20" y1="912.00" x2="124.80" y2="912.00" stroke="#4f6fc6" stroke-width="0.9" />
<line x1="120.20" y1="918.96" x2="124.80" y2="918.96" stroke="#4f6fc6" stroke-width="0.9" />
<rect x="120.40" y="913.38" width="4.20" height="4.20" rx="0" fill="#4f6fc6" />
<line x1="137.35" y1="934.74" x2="137.35" y2="941.70" stroke="#4f6fc6" stroke-width="0.9" />
<line x1="135.05" y1="934.74" x2="139.65" y2="934.74" stroke="#4f6fc6" stroke-width="0.9" />
<line x1="135.05" y1="941.70" x2="139.65" y2="941.70" stroke="#4f6fc6" stroke-width="0.9" />
<rect x="135.25" y="936.12" width="4.20" height="4.20" rx="0" fill="#4f6fc6" />
<line x1="152.20" y1="944.02" x2="152.20" y2="948.66" stroke="#4f6fc6" stroke-width="0.9" />
<line x1="149.90" y1="944.02" x2="154.50" y2="944.02" stroke="#4f6fc6" stroke-width="0.9" />
<line x1="149.90" y1="948.66" x2="154.50" y2="948.66" stroke="#4f6fc6" stroke-width="0.9" />
<rect x="150.10" y="944.24" width="4.20" height="4.20" rx="0" fill="#4f6fc6" />
<line x1="167.05" y1="947.26" x2="167.05" y2="951.90" stroke="#4f6fc6" stroke-width="0.9" />
<line x1="164.75" y1="947.26" x2="169.35" y2="947.26" stroke="#4f6fc6" stroke-width="0.9" />
<line x1="164.75" y1="951.90" x2="169.35" y2="951.90" stroke="#4f6fc6" stroke-width="0.9" />
<rect x="164.95" y="947.48" width="4.20" height="4.20" rx="0" fill="#4f6fc6" />
<line x1="181.90" y1="950.98" x2="181.90" y2="955.62" stroke="#4f6fc6" stroke-width="0.9" />
<line x1="179.60" y1="950.98" x2="184.20" y2="950.98" stroke="#4f6fc6" stroke-width="0.9" />
<line x1="179.60" y1="955.62" x2="184.20" y2="955.62" stroke="#4f6fc6" stroke-width="0.9" />
<rect x="179.80" y="951.20" width="4.20" height="4.20" rx="0" fill="#4f6fc6" />
<text transform="translate(230.80,755.90) scale(1,1.04)" x="0" y="0" font-size="14" font-weight="bold" fill="#111" >J</text>
<text transform="translate(356.30,757.90) scale(1,1.08)" x="0" y="0" font-size="14" text-anchor="middle" stroke="#231f20" stroke-width="0.2" textLength="47.60" lengthAdjust="spacingAndGlyphs" >PANC-1</text>
<line x1="229.00" y1="771.90" x2="245.90" y2="771.90" stroke="#7ab8e2" stroke-width="1.5" opacity="0.8"/>
<circle cx="237.30" cy="771.90" r="2.20" fill="#7ab8e2" />
<text transform="translate(248.50,774.80) scale(1,1.08)" x="0" y="0" font-size="11.4" stroke="#231f20" stroke-width="0.2" >pLV + Normoxia</text>
<text transform="translate(372.70,774.80) scale(1,1.08)" x="0" y="0" font-size="11.4" stroke="#231f20" stroke-width="0.2" textLength="77.60" lengthAdjust="spacingAndGlyphs" >IC50=95.48 nM</text>
<line x1="229.00" y1="788.00" x2="245.90" y2="788.00" stroke="#4f6fc6" stroke-width="1.5" opacity="0.8"/>
<rect x="235.40" y="786.10" width="3.80" height="3.80" rx="0" fill="#4f6fc6" />
<text transform="translate(248.50,790.90) scale(1,1.08)" x="0" y="0" font-size="11.4" stroke="#231f20" stroke-width="0.2" >pLV-485-3p + Normoxia</text>
<text transform="translate(372.70,790.90) scale(1,1.08)" x="0" y="0" font-size="11.4" stroke="#231f20" stroke-width="0.2" textLength="77.60" lengthAdjust="spacingAndGlyphs" >IC50=40.51 nM</text>
<line x1="229.00" y1="804.00" x2="245.90" y2="804.00" stroke="#f1ae46" stroke-width="1.5" opacity="0.8"/>
<path d="M235.10,805.70 L239.50,805.70 L237.30,801.70 Z" stroke="none" stroke-width="1" fill="#f1ae46" />
<text transform="translate(248.50,806.90) scale(1,1.08)" x="0" y="0" font-size="11.4" stroke="#231f20" stroke-width="0.2" >pLV + Hypoxia</text>
<text transform="translate(372.70,806.90) scale(1,1.08)" x="0" y="0" font-size="11.4" stroke="#231f20" stroke-width="0.2" textLength="77.60" lengthAdjust="spacingAndGlyphs" >IC50=180.1 nM</text>
<line x1="229.00" y1="820.30" x2="245.90" y2="820.30" stroke="#e8613a" stroke-width="1.5" opacity="0.8"/>
<path d="M235.10,818.60 L239.50,818.60 L237.30,822.60 Z" stroke="none" stroke-width="1" fill="#e8613a" />
<text transform="translate(248.50,823.20) scale(1,1.08)" x="0" y="0" font-size="11.4" stroke="#231f20" stroke-width="0.2" >pLV-485-3p + Hypoxia</text>
<text transform="translate(372.70,823.20) scale(1,1.08)" x="0" y="0" font-size="11.4" stroke="#231f20" stroke-width="0.2" textLength="77.60" lengthAdjust="spacingAndGlyphs" >IC50=56.98 nM</text>
<line x1="287.20" y1="836.60" x2="287.20" y2="975.80" stroke="#3a3a3a" stroke-width="1.3" />
<line x1="280.70" y1="975.80" x2="435.48" y2="975.80" stroke="#3a3a3a" stroke-width="1.3" />
<line x1="280.70" y1="836.60" x2="287.20" y2="836.60" stroke="#3a3a3a" stroke-width="1.3" />
<text transform="translate(278.70,841.40) scale(1,1.08)" x="0" y="0" font-size="13.5" text-anchor="end" stroke="#231f20" stroke-width="0.2" >120</text>
<line x1="280.70" y1="859.80" x2="287.20" y2="859.80" stroke="#3a3a3a" stroke-width="1.3" />
<text transform="translate(278.70,864.60) scale(1,1.08)" x="0" y="0" font-size="13.5" text-anchor="end" stroke="#231f20" stroke-width="0.2" >100</text>
<line x1="280.70" y1="883.00" x2="287.20" y2="883.00" stroke="#3a3a3a" stroke-width="1.3" />
<text transform="translate(278.70,887.80) scale(1,1.08)" x="0" y="0" font-size="13.5" text-anchor="end" stroke="#231f20" stroke-width="0.2" >80</text>
<line x1="280.70" y1="906.20" x2="287.20" y2="906.20" stroke="#3a3a3a" stroke-width="1.3" />
<text transform="translate(278.70,911.00) scale(1,1.08)" x="0" y="0" font-size="13.5" text-anchor="end" stroke="#231f20" stroke-width="0.2" >60</text>
<line x1="280.70" y1="929.40" x2="287.20" y2="929.40" stroke="#3a3a3a" stroke-width="1.3" />
<text transform="translate(278.70,934.20) scale(1,1.08)" x="0" y="0" font-size="13.5" text-anchor="end" stroke="#231f20" stroke-width="0.2" >40</text>
<line x1="280.70" y1="952.60" x2="287.20" y2="952.60" stroke="#3a3a3a" stroke-width="1.3" />
<text transform="translate(278.70,957.40) scale(1,1.08)" x="0" y="0" font-size="13.5" text-anchor="end" stroke="#231f20" stroke-width="0.2" >20</text>
<line x1="280.70" y1="975.80" x2="287.20" y2="975.80" stroke="#3a3a3a" stroke-width="1.3" />
<text transform="translate(278.70,980.60) scale(1,1.08)" x="0" y="0" font-size="13.5" text-anchor="end" stroke="#231f20" stroke-width="0.2" >0</text>
<line x1="287.10" y1="975.80" x2="287.10" y2="982.00" stroke="#3a3a3a" stroke-width="1.3" />
<text transform="translate(287.10,999.00) scale(1,1.08)" x="0" y="0" font-size="13.5" text-anchor="middle" stroke="#231f20" stroke-width="0.2" >0.0</text>
<line x1="311.73" y1="975.80" x2="311.73" y2="982.00" stroke="#3a3a3a" stroke-width="1.3" />
<text transform="translate(311.73,999.00) scale(1,1.08)" x="0" y="0" font-size="13.5" text-anchor="middle" stroke="#231f20" stroke-width="0.2" >0.5</text>
<line x1="336.36" y1="975.80" x2="336.36" y2="982.00" stroke="#3a3a3a" stroke-width="1.3" />
<text transform="translate(336.36,999.00) scale(1,1.08)" x="0" y="0" font-size="13.5" text-anchor="middle" stroke="#231f20" stroke-width="0.2" >1.0</text>
<line x1="360.99" y1="975.80" x2="360.99" y2="982.00" stroke="#3a3a3a" stroke-width="1.3" />
<text transform="translate(360.99,999.00) scale(1,1.08)" x="0" y="0" font-size="13.5" text-anchor="middle" stroke="#231f20" stroke-width="0.2" >1.5</text>
<line x1="385.62" y1="975.80" x2="385.62" y2="982.00" stroke="#3a3a3a" stroke-width="1.3" />
<text transform="translate(385.62,999.00) scale(1,1.08)" x="0" y="0" font-size="13.5" text-anchor="middle" stroke="#231f20" stroke-width="0.2" >2.0</text>
<line x1="410.25" y1="975.80" x2="410.25" y2="982.00" stroke="#3a3a3a" stroke-width="1.3" />
<text transform="translate(410.25,999.00) scale(1,1.08)" x="0" y="0" font-size="13.5" text-anchor="middle" stroke="#231f20" stroke-width="0.2" >2.5</text>
<line x1="434.88" y1="975.80" x2="434.88" y2="982.00" stroke="#3a3a3a" stroke-width="1.3" />
<text transform="translate(434.88,999.00) scale(1,1.08)" x="0" y="0" font-size="13.5" text-anchor="middle" stroke="#231f20" stroke-width="0.2" >3.0</text>
<text transform="translate(249.80,910.60) rotate(-90)" x="0" y="0" font-size="14" text-anchor="middle" stroke="#231f20" stroke-width="0.2" textLength="87.50" lengthAdjust="spacingAndGlyphs">Cell viablity %</text>
<text transform="translate(315.30,1014.90) scale(1,1.08)" x="0" y="0" font-size="14" stroke="#231f20" stroke-width="0.2" textLength="18.60" lengthAdjust="spacingAndGlyphs" >log</text>
<text transform="translate(333.70,1019.20) scale(1,1.08)" x="0" y="0" font-size="8.5" stroke="#231f20" stroke-width="0.2" textLength="9.00" lengthAdjust="spacingAndGlyphs" >10</text>
<text transform="translate(347.00,1014.90) scale(1,1.08)" x="0" y="0" font-size="13.8" stroke="#231f20" stroke-width="0.2" textLength="58.60" lengthAdjust="spacingAndGlyphs" >GEM(nM)</text>
<line x1="288.70" y1="917.6" x2="434.88" y2="917.6" stroke="#444" stroke-width="1.4" stroke-dasharray="2.6,1.8"/>
<path d="M316.66,864.44 L318.38,864.74 L320.10,865.07 L321.83,865.42 L323.55,865.79 L325.28,866.18 L327.00,866.60 L328.72,867.05 L330.45,867.52 L332.17,868.01 L333.90,868.54 L335.62,869.10 L337.35,869.69 L339.07,870.32 L340.79,870.98 L342.52,871.68 L344.24,872.41 L345.97,873.19 L347.69,874.01 L349.41,874.86 L351.14,875.77 L352.86,876.72 L354.59,877.71 L356.31,878.75 L358.03,879.84 L359.76,880.98 L361.48,882.17 L363.21,883.41 L364.93,884.70 L366.65,886.04 L368.38,887.43 L370.10,888.87 L371.83,890.35 L373.55,891.89 L375.28,893.47 L377.00,895.10 L378.72,896.78 L380.45,898.49 L382.17,900.24 L383.90,902.03 L385.62,903.85 L387.34,905.70 L389.07,907.58 L390.79,909.48 L392.52,911.39 L394.24,913.33 L395.96,915.27 L397.69,917.22 L399.41,919.16 L401.14,921.11 L402.86,923.05 L404.59,924.97 L406.31,926.89 L408.03,928.78 L409.76,930.64 L411.48,932.48 L413.21,934.29 L414.93,936.06 L416.65,937.80 L418.38,939.50 L420.10,941.15" stroke="#f1ae46" stroke-width="1.1" fill="none" />
<path d="M316.66,867.32 L318.38,867.81 L320.10,868.33 L321.83,868.88 L323.55,869.46 L325.28,870.08 L327.00,870.73 L328.72,871.42 L330.45,872.15 L332.17,872.91 L333.90,873.72 L335.62,874.57 L337.35,875.47 L339.07,876.41 L340.79,877.40 L342.52,878.43 L344.24,879.51 L345.97,880.65 L347.69,881.83 L349.41,883.06 L351.14,884.35 L352.86,885.68 L354.59,887.07 L356.31,888.51 L358.03,889.99 L359.76,891.53 L361.48,893.11 L363.21,894.74 L364.93,896.42 L366.65,898.14 L368.38,899.89 L370.10,901.69 L371.83,903.52 L373.55,905.38 L375.28,907.26 L377.00,909.17 L378.72,911.10 L380.45,913.04 L382.17,915.00 L383.90,916.96 L385.62,918.92 L387.34,920.88 L389.07,922.84 L390.79,924.78 L392.52,926.70 L394.24,928.61 L395.96,930.49 L397.69,932.35 L399.41,934.17 L401.14,935.96 L402.86,937.71 L404.59,939.42 L406.31,941.09 L408.03,942.71 L409.76,944.29 L411.48,945.82 L413.21,947.30 L414.93,948.73 L416.65,950.11 L418.38,951.44 L420.10,952.72" stroke="#7ab8e2" stroke-width="1.1" fill="none" />
<path d="M316.66,874.89 L318.38,875.66 L320.10,876.47 L321.83,877.31 L323.55,878.18 L325.28,879.09 L327.00,880.03 L328.72,881.01 L330.45,882.02 L332.17,883.08 L333.90,884.17 L335.62,885.29 L337.35,886.46 L339.07,887.65 L340.79,888.89 L342.52,890.16 L344.24,891.47 L345.97,892.81 L347.69,894.19 L349.41,895.60 L351.14,897.04 L352.86,898.51 L354.59,900.00 L356.31,901.53 L358.03,903.08 L359.76,904.65 L361.48,906.24 L363.21,907.85 L364.93,909.48 L366.65,911.12 L368.38,912.77 L370.10,914.43 L371.83,916.10 L373.55,917.77 L375.28,919.43 L377.00,921.10 L378.72,922.76 L380.45,924.41 L382.17,926.05 L383.90,927.68 L385.62,929.29 L387.34,930.89 L389.07,932.46 L390.79,934.01 L392.52,935.54 L394.24,937.04 L395.96,938.51 L397.69,939.95 L399.41,941.36 L401.14,942.73 L402.86,944.08 L404.59,945.39 L406.31,946.66 L408.03,947.90 L409.76,949.10 L411.48,950.26 L413.21,951.39 L414.93,952.48 L416.65,953.53 L418.38,954.55 L420.10,955.53" stroke="#e8613a" stroke-width="1.1" fill="none" />
<path d="M316.66,877.22 L318.38,878.13 L320.10,879.08 L321.83,880.07 L323.55,881.09 L325.28,882.16 L327.00,883.27 L328.72,884.42 L330.45,885.60 L332.17,886.83 L333.90,888.10 L335.62,889.41 L337.35,890.75 L339.07,892.14 L340.79,893.56 L342.52,895.02 L344.24,896.51 L345.97,898.04 L347.69,899.60 L349.41,901.19 L351.14,902.80 L352.86,904.45 L354.59,906.11 L356.31,907.80 L358.03,909.50 L359.76,911.21 L361.48,912.94 L363.21,914.68 L364.93,916.42 L366.65,918.17 L368.38,919.91 L370.10,921.66 L371.83,923.39 L373.55,925.11 L375.28,926.82 L377.00,928.52 L378.72,930.20 L380.45,931.85 L382.17,933.48 L383.90,935.09 L385.62,936.66 L387.34,938.21 L389.07,939.72 L390.79,941.20 L392.52,942.64 L394.24,944.05 L395.96,945.42 L397.69,946.75 L399.41,948.04 L401.14,949.29 L402.86,950.50 L404.59,951.67 L406.31,952.80 L408.03,953.89 L409.76,954.94 L411.48,955.95 L413.21,956.92 L414.93,957.86 L416.65,958.75 L418.38,959.61 L420.10,960.43" stroke="#4f6fc6" stroke-width="1.1" fill="none" />
<line x1="316.66" y1="856.55" x2="316.66" y2="868.15" stroke="#f1ae46" stroke-width="0.9" />
<line x1="314.36" y1="856.55" x2="318.96" y2="856.55" stroke="#f1ae46" stroke-width="0.9" />
<line x1="314.36" y1="868.15" x2="318.96" y2="868.15" stroke="#f1ae46" stroke-width="0.9" />
<path d="M313.96,864.55 L319.36,864.55 L316.66,859.75 Z" stroke="none" stroke-width="1" fill="#f1ae46" />
<line x1="346.21" y1="864.79" x2="346.21" y2="878.71" stroke="#f1ae46" stroke-width="0.9" />
<line x1="343.91" y1="864.79" x2="348.51" y2="864.79" stroke="#f1ae46" stroke-width="0.9" />
<line x1="343.91" y1="878.71" x2="348.51" y2="878.71" stroke="#f1ae46" stroke-width="0.9" />
<path d="M343.51,873.95 L348.91,873.95 L346.21,869.15 Z" stroke="none" stroke-width="1" fill="#f1ae46" />
<line x1="360.99" y1="879.06" x2="360.99" y2="886.02" stroke="#f1ae46" stroke-width="0.9" />
<line x1="358.69" y1="879.06" x2="363.29" y2="879.06" stroke="#f1ae46" stroke-width="0.9" />
<line x1="358.69" y1="886.02" x2="363.29" y2="886.02" stroke="#f1ae46" stroke-width="0.9" />
<path d="M358.29,884.74 L363.69,884.74 L360.99,879.94 Z" stroke="none" stroke-width="1" fill="#f1ae46" />
<line x1="375.77" y1="889.50" x2="375.77" y2="901.10" stroke="#f1ae46" stroke-width="0.9" />
<line x1="373.47" y1="889.50" x2="378.07" y2="889.50" stroke="#f1ae46" stroke-width="0.9" />
<line x1="373.47" y1="901.10" x2="378.07" y2="901.10" stroke="#f1ae46" stroke-width="0.9" />
<path d="M373.07,897.50 L378.47,897.50 L375.77,892.70 Z" stroke="none" stroke-width="1" fill="#f1ae46" />
<line x1="390.55" y1="899.36" x2="390.55" y2="913.28" stroke="#f1ae46" stroke-width="0.9" />
<line x1="388.25" y1="899.36" x2="392.85" y2="899.36" stroke="#f1ae46" stroke-width="0.9" />
<line x1="388.25" y1="913.28" x2="392.85" y2="913.28" stroke="#f1ae46" stroke-width="0.9" />
<path d="M387.85,908.52 L393.25,908.52 L390.55,903.72 Z" stroke="none" stroke-width="1" fill="#f1ae46" />
<line x1="405.32" y1="924.88" x2="405.32" y2="934.16" stroke="#f1ae46" stroke-width="0.9" />
<line x1="403.02" y1="924.88" x2="407.62" y2="924.88" stroke="#f1ae46" stroke-width="0.9" />
<line x1="403.02" y1="934.16" x2="407.62" y2="934.16" stroke="#f1ae46" stroke-width="0.9" />
<path d="M402.62,931.72 L408.02,931.72 L405.32,926.92 Z" stroke="none" stroke-width="1" fill="#f1ae46" />
<line x1="420.10" y1="939.26" x2="420.10" y2="943.90" stroke="#f1ae46" stroke-width="0.9" />
<line x1="417.80" y1="939.26" x2="422.40" y2="939.26" stroke="#f1ae46" stroke-width="0.9" />
<line x1="417.80" y1="943.90" x2="422.40" y2="943.90" stroke="#f1ae46" stroke-width="0.9" />
<path d="M417.40,943.78 L422.80,943.78 L420.10,938.98 Z" stroke="none" stroke-width="1" fill="#f1ae46" />
<line x1="316.66" y1="866.64" x2="316.66" y2="873.60" stroke="#7ab8e2" stroke-width="0.9" />
<line x1="314.36" y1="866.64" x2="318.96" y2="866.64" stroke="#7ab8e2" stroke-width="0.9" />
<line x1="314.36" y1="873.60" x2="318.96" y2="873.60" stroke="#7ab8e2" stroke-width="0.9" />
<circle cx="316.66" cy="870.12" r="2.35" fill="#7ab8e2" />
<line x1="346.21" y1="875.00" x2="346.21" y2="881.96" stroke="#7ab8e2" stroke-width="0.9" />
<line x1="343.91" y1="875.00" x2="348.51" y2="875.00" stroke="#7ab8e2" stroke-width="0.9" />
<line x1="343.91" y1="881.96" x2="348.51" y2="881.96" stroke="#7ab8e2" stroke-width="0.9" />
<circle cx="346.21" cy="878.48" r="2.35" fill="#7ab8e2" />
<line x1="360.99" y1="887.76" x2="360.99" y2="894.72" stroke="#7ab8e2" stroke-width="0.9" />
<line x1="358.69" y1="887.76" x2="363.29" y2="887.76" stroke="#7ab8e2" stroke-width="0.9" />
<line x1="358.69" y1="894.72" x2="363.29" y2="894.72" stroke="#7ab8e2" stroke-width="0.9" />
<circle cx="360.99" cy="891.24" r="2.35" fill="#7ab8e2" />
<line x1="375.77" y1="896.11" x2="375.77" y2="914.67" stroke="#7ab8e2" stroke-width="0.9" />
<line x1="373.47" y1="896.11" x2="378.07" y2="896.11" stroke="#7ab8e2" stroke-width="0.9" />
<line x1="373.47" y1="914.67" x2="378.07" y2="914.67" stroke="#7ab8e2" stroke-width="0.9" />
<circle cx="375.77" cy="905.39" r="2.35" fill="#7ab8e2" />
<line x1="390.55" y1="923.60" x2="390.55" y2="930.56" stroke="#7ab8e2" stroke-width="0.9" />
<line x1="388.25" y1="923.60" x2="392.85" y2="923.60" stroke="#7ab8e2" stroke-width="0.9" />
<line x1="388.25" y1="930.56" x2="392.85" y2="930.56" stroke="#7ab8e2" stroke-width="0.9" />
<circle cx="390.55" cy="927.08" r="2.35" fill="#7ab8e2" />
<line x1="405.32" y1="940.65" x2="405.32" y2="945.29" stroke="#7ab8e2" stroke-width="0.9" />
<line x1="403.02" y1="940.65" x2="407.62" y2="940.65" stroke="#7ab8e2" stroke-width="0.9" />
<line x1="403.02" y1="945.29" x2="407.62" y2="945.29" stroke="#7ab8e2" stroke-width="0.9" />
<circle cx="405.32" cy="942.97" r="2.35" fill="#7ab8e2" />
<line x1="420.10" y1="944.83" x2="420.10" y2="951.79" stroke="#7ab8e2" stroke-width="0.9" />
<line x1="417.80" y1="944.83" x2="422.40" y2="944.83" stroke="#7ab8e2" stroke-width="0.9" />
<line x1="417.80" y1="951.79" x2="422.40" y2="951.79" stroke="#7ab8e2" stroke-width="0.9" />
<circle cx="420.10" cy="948.31" r="2.35" fill="#7ab8e2" />
<line x1="316.66" y1="870.94" x2="316.66" y2="877.90" stroke="#e8613a" stroke-width="0.9" />
<line x1="314.36" y1="870.94" x2="318.96" y2="870.94" stroke="#e8613a" stroke-width="0.9" />
<line x1="314.36" y1="877.90" x2="318.96" y2="877.90" stroke="#e8613a" stroke-width="0.9" />
<path d="M313.96,872.22 L319.36,872.22 L316.66,877.02 Z" stroke="none" stroke-width="1" fill="#e8613a" />
<line x1="346.21" y1="880.45" x2="346.21" y2="892.05" stroke="#e8613a" stroke-width="0.9" />
<line x1="343.91" y1="880.45" x2="348.51" y2="880.45" stroke="#e8613a" stroke-width="0.9" />
<line x1="343.91" y1="892.05" x2="348.51" y2="892.05" stroke="#e8613a" stroke-width="0.9" />
<path d="M343.51,884.05 L348.91,884.05 L346.21,888.85 Z" stroke="none" stroke-width="1" fill="#e8613a" />
<line x1="360.99" y1="899.59" x2="360.99" y2="911.19" stroke="#e8613a" stroke-width="0.9" />
<line x1="358.69" y1="899.59" x2="363.29" y2="899.59" stroke="#e8613a" stroke-width="0.9" />
<line x1="358.69" y1="911.19" x2="363.29" y2="911.19" stroke="#e8613a" stroke-width="0.9" />
<path d="M358.29,903.19 L363.69,903.19 L360.99,907.99 Z" stroke="none" stroke-width="1" fill="#e8613a" />
<line x1="375.77" y1="923.14" x2="375.77" y2="927.78" stroke="#e8613a" stroke-width="0.9" />
<line x1="373.47" y1="923.14" x2="378.07" y2="923.14" stroke="#e8613a" stroke-width="0.9" />
<line x1="373.47" y1="927.78" x2="378.07" y2="927.78" stroke="#e8613a" stroke-width="0.9" />
<path d="M373.07,923.26 L378.47,923.26 L375.77,928.06 Z" stroke="none" stroke-width="1" fill="#e8613a" />
<line x1="390.55" y1="933.23" x2="390.55" y2="937.87" stroke="#e8613a" stroke-width="0.9" />
<line x1="388.25" y1="933.23" x2="392.85" y2="933.23" stroke="#e8613a" stroke-width="0.9" />
<line x1="388.25" y1="937.87" x2="392.85" y2="937.87" stroke="#e8613a" stroke-width="0.9" />
<path d="M387.85,933.35 L393.25,933.35 L390.55,938.15 Z" stroke="none" stroke-width="1" fill="#e8613a" />
<line x1="405.32" y1="946.57" x2="405.32" y2="951.21" stroke="#e8613a" stroke-width="0.9" />
<line x1="403.02" y1="946.57" x2="407.62" y2="946.57" stroke="#e8613a" stroke-width="0.9" />
<line x1="403.02" y1="951.21" x2="407.62" y2="951.21" stroke="#e8613a" stroke-width="0.9" />
<path d="M402.62,946.69 L408.02,946.69 L405.32,951.49 Z" stroke="none" stroke-width="1" fill="#e8613a" />
<line x1="420.10" y1="951.67" x2="420.10" y2="956.31" stroke="#e8613a" stroke-width="0.9" />
<line x1="417.80" y1="951.67" x2="422.40" y2="951.67" stroke="#e8613a" stroke-width="0.9" />
<line x1="417.80" y1="956.31" x2="422.40" y2="956.31" stroke="#e8613a" stroke-width="0.9" />
<path d="M417.40,951.79 L422.80,951.79 L420.10,956.59 Z" stroke="none" stroke-width="1" fill="#e8613a" />
<line x1="316.66" y1="873.84" x2="316.66" y2="883.12" stroke="#4f6fc6" stroke-width="0.9" />
<line x1="314.36" y1="873.84" x2="318.96" y2="873.84" stroke="#4f6fc6" stroke-width="0.9" />
<line x1="314.36" y1="883.12" x2="318.96" y2="883.12" stroke="#4f6fc6" stroke-width="0.9" />
<rect x="314.56" y="876.38" width="4.20" height="4.20" rx="0" fill="#4f6fc6" />
<line x1="346.21" y1="886.60" x2="346.21" y2="895.88" stroke="#4f6fc6" stroke-width="0.9" />
<line x1="343.91" y1="886.60" x2="348.51" y2="886.60" stroke="#4f6fc6" stroke-width="0.9" />
<line x1="343.91" y1="895.88" x2="348.51" y2="895.88" stroke="#4f6fc6" stroke-width="0.9" />
<rect x="344.11" y="889.14" width="4.20" height="4.20" rx="0" fill="#4f6fc6" />
<line x1="360.99" y1="906.90" x2="360.99" y2="913.86" stroke="#4f6fc6" stroke-width="0.9" />
<line x1="358.69" y1="906.90" x2="363.29" y2="906.90" stroke="#4f6fc6" stroke-width="0.9" />
<line x1="358.69" y1="913.86" x2="363.29" y2="913.86" stroke="#4f6fc6" stroke-width="0.9" />
<rect x="358.89" y="908.28" width="4.20" height="4.20" rx="0" fill="#4f6fc6" />
<line x1="375.77" y1="932.53" x2="375.77" y2="941.81" stroke="#4f6fc6" stroke-width="0.9" />
<line x1="373.47" y1="932.53" x2="378.07" y2="932.53" stroke="#4f6fc6" stroke-width="0.9" />
<line x1="373.47" y1="941.81" x2="378.07" y2="941.81" stroke="#4f6fc6" stroke-width="0.9" />
<rect x="373.67" y="935.07" width="4.20" height="4.20" rx="0" fill="#4f6fc6" />
<line x1="390.55" y1="940.30" x2="390.55" y2="949.58" stroke="#4f6fc6" stroke-width="0.9" />
<line x1="388.25" y1="940.30" x2="392.85" y2="940.30" stroke="#4f6fc6" stroke-width="0.9" />
<line x1="388.25" y1="949.58" x2="392.85" y2="949.58" stroke="#4f6fc6" stroke-width="0.9" />
<rect x="388.45" y="942.84" width="4.20" height="4.20" rx="0" fill="#4f6fc6" />
<line x1="405.32" y1="946.57" x2="405.32" y2="951.21" stroke="#4f6fc6" stroke-width="0.9" />
<line x1="403.02" y1="946.57" x2="407.62" y2="946.57" stroke="#4f6fc6" stroke-width="0.9" />
<line x1="403.02" y1="951.21" x2="407.62" y2="951.21" stroke="#4f6fc6" stroke-width="0.9" />
<rect x="403.22" y="946.79" width="4.20" height="4.20" rx="0" fill="#4f6fc6" />
<line x1="420.10" y1="952.72" x2="420.10" y2="957.36" stroke="#4f6fc6" stroke-width="0.9" />
<line x1="417.80" y1="952.72" x2="422.40" y2="952.72" stroke="#4f6fc6" stroke-width="0.9" />
<line x1="417.80" y1="957.36" x2="422.40" y2="957.36" stroke="#4f6fc6" stroke-width="0.9" />
<rect x="418.00" y="952.94" width="4.20" height="4.20" rx="0" fill="#4f6fc6" />
<text x="460.80" y="755.20" font-size="14" font-weight="bold" fill="#111" >K</text>
<text x="578.00" y="757.50" font-size="13.5" text-anchor="middle" stroke="#231f20" stroke-width="0.2" textLength="91.70" lengthAdjust="spacingAndGlyphs" >Overall survival</text>
<line x1="524.10" y1="773.70" x2="537.80" y2="773.70" stroke="#f02828" stroke-width="1.4" />
<line x1="525.50" y1="792.80" x2="539.20" y2="792.80" stroke="#2845f0" stroke-width="1.4" />
<text x="548.40" y="777.20" font-size="11" stroke="#231f20" stroke-width="0.2" textLength="83.60" lengthAdjust="spacingAndGlyphs" >miR-485-3p High</text>
<text x="549.70" y="796.30" font-size="11" stroke="#231f20" stroke-width="0.2" textLength="81.60" lengthAdjust="spacingAndGlyphs" >miR-485-3p Low</text>
<text x="538.00" y="818.00" font-size="10.8" stroke="#231f20" stroke-width="0.2" textLength="79.00" lengthAdjust="spacingAndGlyphs" >logrank P=0.031</text>
<text x="619.20" y="814.60" font-size="6.5" stroke="#231f20" stroke-width="0.2" >*</text>
<rect x="506.1" y="831.6" width="151.00" height="144.80" fill="none" stroke="#3a3a3a" stroke-width="1.3"/>
<line x1="500.90" y1="976.40" x2="506.10" y2="976.40" stroke="#3a3a3a" stroke-width="1.3" />
<text x="495.40" y="981.50" font-size="14.2" text-anchor="end" stroke="#231f20" stroke-width="0.2" textLength="7.60" lengthAdjust="spacingAndGlyphs" >0</text>
<line x1="500.90" y1="948.08" x2="506.10" y2="948.08" stroke="#3a3a3a" stroke-width="1.3" />
<text x="495.40" y="953.18" font-size="14.2" text-anchor="end" stroke="#231f20" stroke-width="0.2" textLength="15.30" lengthAdjust="spacingAndGlyphs" >20</text>
<line x1="500.90" y1="919.76" x2="506.10" y2="919.76" stroke="#3a3a3a" stroke-width="1.3" />
<text x="495.40" y="924.86" font-size="14.2" text-anchor="end" stroke="#231f20" stroke-width="0.2" textLength="15.30" lengthAdjust="spacingAndGlyphs" >40</text>
<line x1="500.90" y1="891.44" x2="506.10" y2="891.44" stroke="#3a3a3a" stroke-width="1.3" />
<text x="495.40" y="896.54" font-size="14.2" text-anchor="end" stroke="#231f20" stroke-width="0.2" textLength="15.30" lengthAdjust="spacingAndGlyphs" >60</text>
<line x1="500.90" y1="863.12" x2="506.10" y2="863.12" stroke="#3a3a3a" stroke-width="1.3" />
<text x="495.40" y="868.22" font-size="14.2" text-anchor="end" stroke="#231f20" stroke-width="0.2" textLength="15.30" lengthAdjust="spacingAndGlyphs" >80</text>
<line x1="500.90" y1="834.80" x2="506.10" y2="834.80" stroke="#3a3a3a" stroke-width="1.3" />
<text x="495.40" y="839.90" font-size="14.2" text-anchor="end" stroke="#231f20" stroke-width="0.2" textLength="23.20" lengthAdjust="spacingAndGlyphs" >100</text>
<line x1="506.10" y1="976.40" x2="506.10" y2="980.40" stroke="#3a3a3a" stroke-width="1.3" />
<text x="506.10" y="999.40" font-size="14.2" text-anchor="middle" stroke="#231f20" stroke-width="0.2" textLength="7.60" lengthAdjust="spacingAndGlyphs" >0</text>
<line x1="530.42" y1="976.40" x2="530.42" y2="980.40" stroke="#3a3a3a" stroke-width="1.3" />
<text x="530.42" y="999.40" font-size="14.2" text-anchor="middle" stroke="#231f20" stroke-width="0.2" textLength="15.30" lengthAdjust="spacingAndGlyphs" >10</text>
<line x1="554.74" y1="976.40" x2="554.74" y2="980.40" stroke="#3a3a3a" stroke-width="1.3" />
<text x="554.74" y="999.40" font-size="14.2" text-anchor="middle" stroke="#231f20" stroke-width="0.2" textLength="15.30" lengthAdjust="spacingAndGlyphs" >20</text>
<line x1="579.06" y1="976.40" x2="579.06" y2="980.40" stroke="#3a3a3a" stroke-width="1.3" />
<text x="579.06" y="999.40" font-size="14.2" text-anchor="middle" stroke="#231f20" stroke-width="0.2" textLength="15.30" lengthAdjust="spacingAndGlyphs" >30</text>
<line x1="603.38" y1="976.40" x2="603.38" y2="980.40" stroke="#3a3a3a" stroke-width="1.3" />
<text x="603.38" y="999.40" font-size="14.2" text-anchor="middle" stroke="#231f20" stroke-width="0.2" textLength="15.30" lengthAdjust="spacingAndGlyphs" >40</text>
<line x1="627.70" y1="976.40" x2="627.70" y2="980.40" stroke="#3a3a3a" stroke-width="1.3" />
<text x="627.70" y="999.40" font-size="14.2" text-anchor="middle" stroke="#231f20" stroke-width="0.2" textLength="15.30" lengthAdjust="spacingAndGlyphs" >50</text>
<line x1="652.02" y1="976.40" x2="652.02" y2="980.40" stroke="#3a3a3a" stroke-width="1.3" />
<text x="652.02" y="999.40" font-size="14.2" text-anchor="middle" stroke="#231f20" stroke-width="0.2" textLength="15.30" lengthAdjust="spacingAndGlyphs" >60</text>
<text x="590.60" y="1014.30" font-size="13.0" text-anchor="middle" stroke="#231f20" stroke-width="0.2" textLength="49.70" lengthAdjust="spacingAndGlyphs" >months</text>
<text transform="translate(471.70,911.20) rotate(-90)" x="0" y="0" font-size="14" text-anchor="middle" stroke="#231f20" stroke-width="0.2" textLength="58.30" lengthAdjust="spacingAndGlyphs">Percent %</text>
<path d="M506.10,834.80 L513.40,834.80 L513.40,843.40 L518.20,843.40 L518.20,861.30 L523.00,861.30 L523.00,870.50 L525.40,870.50 L525.40,879.30 L527.70,879.30 L527.70,896.50 L532.70,896.50 L532.70,916.20 L535.20,916.20 L535.20,927.00 L537.60,927.00 L537.60,936.60 L542.40,936.60 L542.40,946.80 L544.80,946.80 L544.80,966.50 L554.60,966.50 L554.60,976.40 L554.60,976.40" stroke="#2845f0" stroke-width="1.5" fill="none" />
<path d="M506.10,834.80 L520.50,834.80 L520.50,843.70 L523.00,843.70 L523.00,853.40 L527.70,853.40 L527.70,863.10 L530.20,863.10 L530.20,872.40 L532.70,872.40 L532.70,882.20 L535.20,882.20 L535.20,910.50 L537.60,910.50 L537.60,919.80 L566.80,919.80 L566.80,931.30 L579.00,931.30 L579.00,953.80 L649.30,953.80" stroke="#f02828" stroke-width="1.5" fill="none" />
<text x="495.80" y="1031.60" font-size="13.8" stroke="#231f20" stroke-width="0.2" textLength="98.60" lengthAdjust="spacingAndGlyphs" >Number at risk</text>
<line x1="492.60" y1="1039.60" x2="658.20" y2="1039.60" stroke="#222" stroke-width="1.3" />
<line x1="492.60" y1="1039.60" x2="492.60" y2="1077.30" stroke="#222" stroke-width="1.3" />
<text x="457.20" y="1057.00" font-size="13.6" fill="#c4163e" stroke="#c4163e" stroke-width="0.2" textLength="30.10" lengthAdjust="spacingAndGlyphs" >High</text>
<text x="457.20" y="1073.60" font-size="13.6" fill="#2a4cf0" stroke="#2a4cf0" stroke-width="0.2" textLength="26.80" lengthAdjust="spacingAndGlyphs" >Low</text>
<text x="504.70" y="1057.40" font-size="14.2" text-anchor="middle" stroke="#231f20" stroke-width="0.2" textLength="15.30" lengthAdjust="spacingAndGlyphs" >15</text>
<text x="504.70" y="1074.10" font-size="14.2" text-anchor="middle" stroke="#231f20" stroke-width="0.2" textLength="15.30" lengthAdjust="spacingAndGlyphs" >16</text>
<text x="528.90" y="1057.40" font-size="14.2" text-anchor="middle" stroke="#231f20" stroke-width="0.2" textLength="15.30" lengthAdjust="spacingAndGlyphs" >12</text>
<text x="528.90" y="1074.10" font-size="14.2" text-anchor="middle" stroke="#231f20" stroke-width="0.2" textLength="7.60" lengthAdjust="spacingAndGlyphs" >9</text>
<text x="553.00" y="1057.40" font-size="14.2" text-anchor="middle" stroke="#231f20" stroke-width="0.2" textLength="7.60" lengthAdjust="spacingAndGlyphs" >5</text>
<text x="553.00" y="1074.10" font-size="14.2" text-anchor="middle" stroke="#231f20" stroke-width="0.2" textLength="7.60" lengthAdjust="spacingAndGlyphs" >1</text>
<text x="577.60" y="1057.40" font-size="14.2" text-anchor="middle" stroke="#231f20" stroke-width="0.2" textLength="7.60" lengthAdjust="spacingAndGlyphs" >2</text>
<text x="577.60" y="1074.10" font-size="14.2" text-anchor="middle" stroke="#231f20" stroke-width="0.2" textLength="7.60" lengthAdjust="spacingAndGlyphs" >0</text>
<text x="602.10" y="1057.40" font-size="14.2" text-anchor="middle" stroke="#231f20" stroke-width="0.2" textLength="7.60" lengthAdjust="spacingAndGlyphs" >1</text>
<text x="602.10" y="1074.10" font-size="14.2" text-anchor="middle" stroke="#231f20" stroke-width="0.2" textLength="7.60" lengthAdjust="spacingAndGlyphs" >0</text>
<text x="626.30" y="1057.40" font-size="14.2" text-anchor="middle" stroke="#231f20" stroke-width="0.2" textLength="7.60" lengthAdjust="spacingAndGlyphs" >1</text>
<text x="626.30" y="1074.10" font-size="14.2" text-anchor="middle" stroke="#231f20" stroke-width="0.2" textLength="7.60" lengthAdjust="spacingAndGlyphs" >0</text>
<text x="651.40" y="1057.40" font-size="14.2" text-anchor="middle" stroke="#231f20" stroke-width="0.2" textLength="7.60" lengthAdjust="spacingAndGlyphs" >1</text>
<text x="651.40" y="1074.10" font-size="14.2" text-anchor="middle" stroke="#231f20" stroke-width="0.2" textLength="7.60" lengthAdjust="spacingAndGlyphs" >0</text>
</svg>
</body></html>
